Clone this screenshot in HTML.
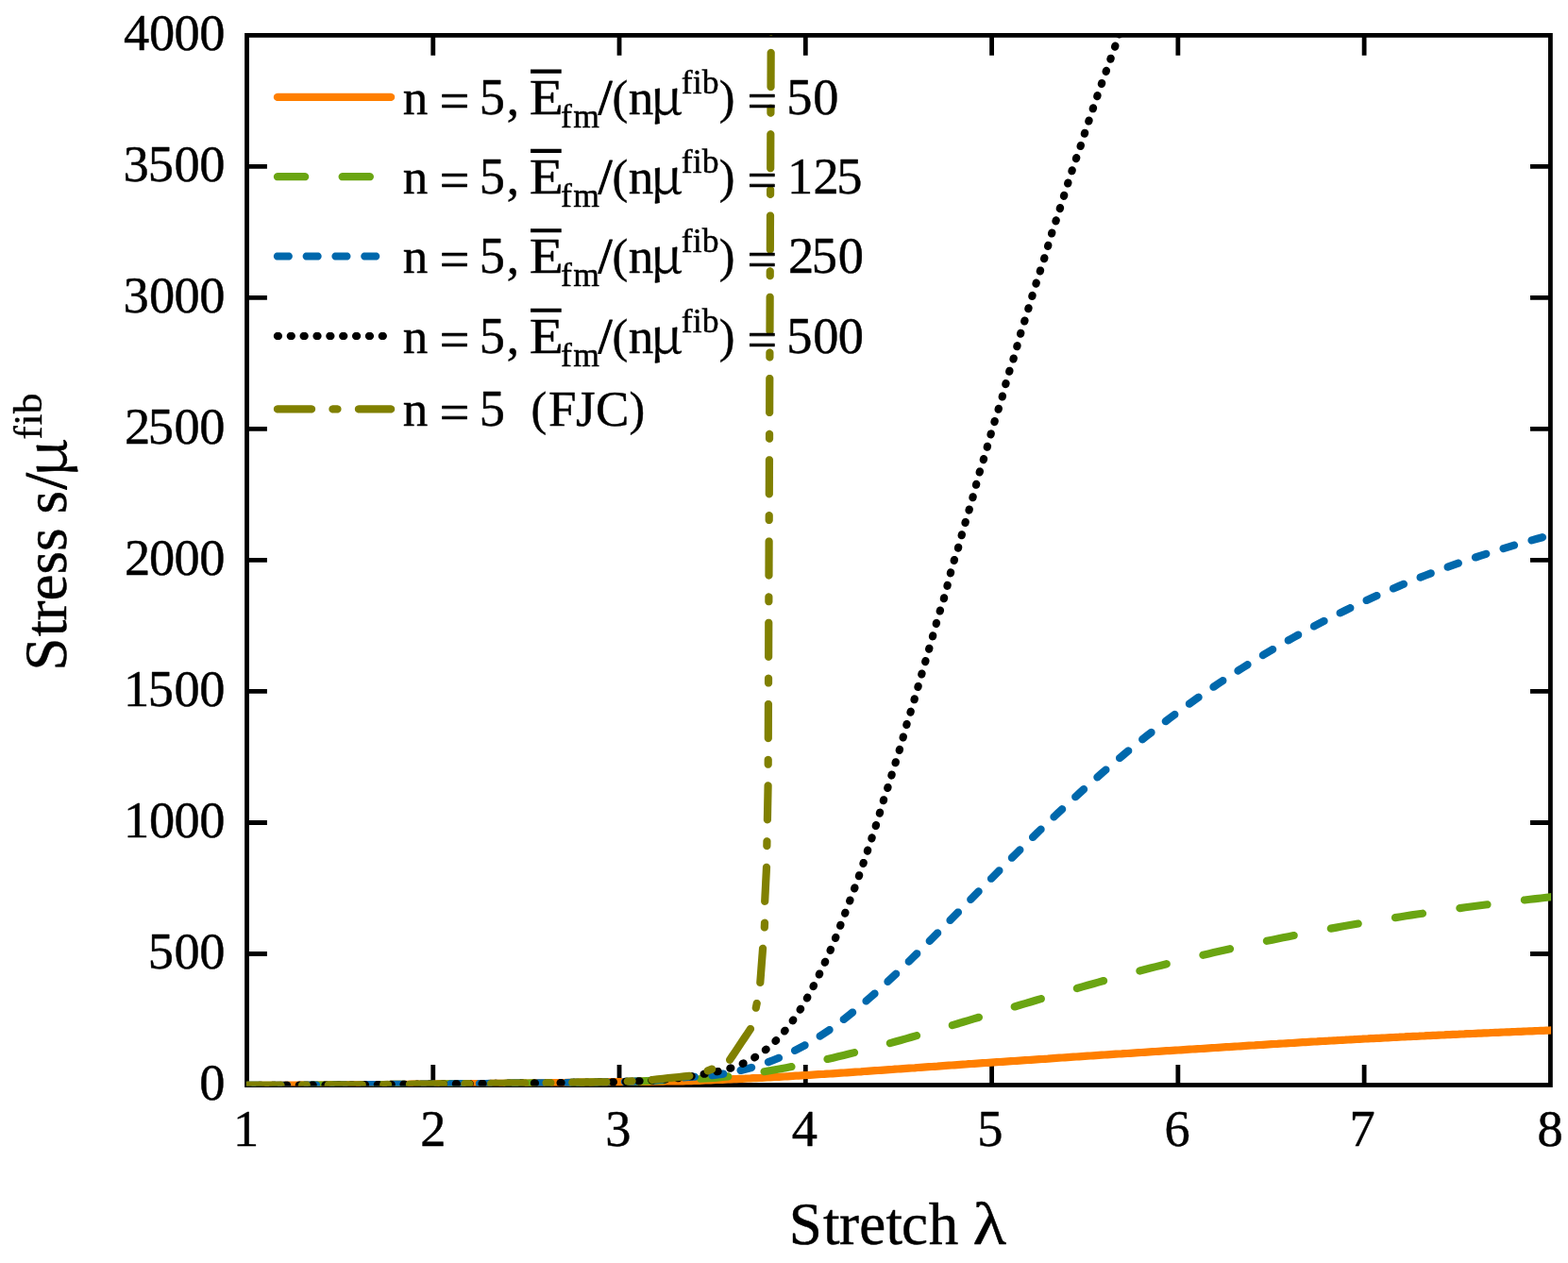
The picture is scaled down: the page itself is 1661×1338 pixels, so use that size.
<!DOCTYPE html>
<html lang="en"><head><meta charset="utf-8"><title>Stress vs Stretch</title>
<style>
html,body{margin:0;padding:0;background:#fff;}
body{width:1661px;height:1338px;overflow:hidden;}
svg{display:block;}
text{font-family:"Liberation Serif","DejaVu Serif",serif;fill:#000;stroke:#000;stroke-width:0.45px;stroke-linejoin:round;}
.t{font-size:53.05px;}
.d{font-size:54.38px;}
.l{font-size:63px;}
.s{font-size:35.6px;}
.ls{font-size:42.6px;}
.q{font-size:55.97px;stroke:#000;stroke-width:0.7px;}
.lq{font-size:63px;stroke:#000;stroke-width:1.3px;}
.sl{stroke:#000;stroke-width:1.1px;}
.p{font-size:50.13px;}
.m{font-family:"Noto Serif CJK SC","Liberation Serif",serif;font-size:49.87px;}
.lm{font-family:"Noto Serif CJK SC","Liberation Serif",serif;font-size:59.22px;}
.c{fill:none;stroke-width:8.2;stroke-linecap:butt;stroke-linejoin:round;}
.k{fill:none;stroke:#000;stroke-width:4.8;stroke-linecap:butt;}
</style></head><body>
<svg width="1661" height="1338" viewBox="0 0 1661 1338">
<rect width="1661" height="1338" fill="#fff"/>
<defs><clipPath id="cp"><rect x="260.90" y="37.00" width="1382.20" height="1113.60"/></clipPath>
<marker id="m0" markerUnits="userSpaceOnUse" markerWidth="10" markerHeight="10" refX="5" refY="5" viewBox="0 0 10 10"><path fill="#ff7f00" d="M9.100,5.000 9.038,5.712 8.853,6.402 8.551,7.050 8.141,7.635 7.635,8.141 7.050,8.551 6.402,8.853 5.712,9.038 5.000,9.100 4.288,9.038 3.598,8.853 2.950,8.551 2.365,8.141 1.859,7.635 1.449,7.050 1.147,6.402 0.962,5.712 0.900,5.000 0.962,4.288 1.147,3.598 1.449,2.950 1.859,2.365 2.365,1.859 2.950,1.449 3.598,1.147 4.288,0.962 5.000,0.900 5.712,0.962 6.402,1.147 7.050,1.449 7.635,1.859 8.141,2.365 8.551,2.950 8.853,3.598 9.038,4.288z"/></marker>
<marker id="m1" markerUnits="userSpaceOnUse" markerWidth="10" markerHeight="10" refX="5" refY="5" viewBox="0 0 10 10"><path fill="#6aa512" d="M9.100,5.000 9.038,5.712 8.853,6.402 8.551,7.050 8.141,7.635 7.635,8.141 7.050,8.551 6.402,8.853 5.712,9.038 5.000,9.100 4.288,9.038 3.598,8.853 2.950,8.551 2.365,8.141 1.859,7.635 1.449,7.050 1.147,6.402 0.962,5.712 0.900,5.000 0.962,4.288 1.147,3.598 1.449,2.950 1.859,2.365 2.365,1.859 2.950,1.449 3.598,1.147 4.288,0.962 5.000,0.900 5.712,0.962 6.402,1.147 7.050,1.449 7.635,1.859 8.141,2.365 8.551,2.950 8.853,3.598 9.038,4.288z"/></marker>
<marker id="m2" markerUnits="userSpaceOnUse" markerWidth="10" markerHeight="10" refX="5" refY="5" viewBox="0 0 10 10"><path fill="#0068ac" d="M9.100,5.000 9.038,5.712 8.853,6.402 8.551,7.050 8.141,7.635 7.635,8.141 7.050,8.551 6.402,8.853 5.712,9.038 5.000,9.100 4.288,9.038 3.598,8.853 2.950,8.551 2.365,8.141 1.859,7.635 1.449,7.050 1.147,6.402 0.962,5.712 0.900,5.000 0.962,4.288 1.147,3.598 1.449,2.950 1.859,2.365 2.365,1.859 2.950,1.449 3.598,1.147 4.288,0.962 5.000,0.900 5.712,0.962 6.402,1.147 7.050,1.449 7.635,1.859 8.141,2.365 8.551,2.950 8.853,3.598 9.038,4.288z"/></marker>
<marker id="m3" markerUnits="userSpaceOnUse" markerWidth="10" markerHeight="10" refX="5" refY="5" viewBox="0 0 10 10"><path fill="#000000" d="M9.100,5.000 9.038,5.712 8.853,6.402 8.551,7.050 8.141,7.635 7.635,8.141 7.050,8.551 6.402,8.853 5.712,9.038 5.000,9.100 4.288,9.038 3.598,8.853 2.950,8.551 2.365,8.141 1.859,7.635 1.449,7.050 1.147,6.402 0.962,5.712 0.900,5.000 0.962,4.288 1.147,3.598 1.449,2.950 1.859,2.365 2.365,1.859 2.950,1.449 3.598,1.147 4.288,0.962 5.000,0.900 5.712,0.962 6.402,1.147 7.050,1.449 7.635,1.859 8.141,2.365 8.551,2.950 8.853,3.598 9.038,4.288z"/></marker>
<marker id="m4" markerUnits="userSpaceOnUse" markerWidth="10" markerHeight="10" refX="5" refY="5" viewBox="0 0 10 10"><path fill="#808000" d="M9.100,5.000 9.038,5.712 8.853,6.402 8.551,7.050 8.141,7.635 7.635,8.141 7.050,8.551 6.402,8.853 5.712,9.038 5.000,9.100 4.288,9.038 3.598,8.853 2.950,8.551 2.365,8.141 1.859,7.635 1.449,7.050 1.147,6.402 0.962,5.712 0.900,5.000 0.962,4.288 1.147,3.598 1.449,2.950 1.859,2.365 2.365,1.859 2.950,1.449 3.598,1.147 4.288,0.962 5.000,0.900 5.712,0.962 6.402,1.147 7.050,1.449 7.635,1.859 8.141,2.365 8.551,2.950 8.853,3.598 9.038,4.288z"/></marker>
</defs>
<rect class="k" x="261.50" y="37.40" width="1380.90" height="1112.10" stroke-linejoin="miter"/>
<path class="k" d="M458.77,1149.50 V1128.10 M458.77,37.40 V58.80 M656.04,1149.50 V1128.10 M656.04,37.40 V58.80 M853.31,1149.50 V1128.10 M853.31,37.40 V58.80 M1050.59,1149.50 V1128.10 M1050.59,37.40 V58.80 M1247.86,1149.50 V1128.10 M1247.86,37.40 V58.80 M1445.13,1149.50 V1128.10 M1445.13,37.40 V58.80 M261.50,1010.49 H282.90 M1642.40,1010.49 H1621.00 M261.50,871.48 H282.90 M1642.40,871.48 H1621.00 M261.50,732.46 H282.90 M1642.40,732.46 H1621.00 M261.50,593.45 H282.90 M1642.40,593.45 H1621.00 M261.50,454.44 H282.90 M1642.40,454.44 H1621.00 M261.50,315.43 H282.90 M1642.40,315.43 H1621.00 M261.50,176.41 H282.90 M1642.40,176.41 H1621.00"/>
<g clip-path="url(#cp)">
<path class="c" stroke="#ff7f00" d="M261.5,1149.9 264.5,1149.9 267.5,1149.9 270.5,1149.9 273.5,1149.9 276.5,1149.8 279.5,1149.8 282.5,1149.8 285.5,1149.8 288.5,1149.8 291.5,1149.8 294.5,1149.8 297.5,1149.8 300.5,1149.7 303.5,1149.7 306.5,1149.7 309.5,1149.7 312.5,1149.7 315.5,1149.7 318.5,1149.7 321.5,1149.6 324.5,1149.6 327.5,1149.6 330.5,1149.6 333.5,1149.6 336.5,1149.5 339.5,1149.5 342.5,1149.5 345.5,1149.5 348.5,1149.5 351.5,1149.5 354.5,1149.4 357.5,1149.4 360.5,1149.4 363.5,1149.4 366.5,1149.4 369.5,1149.3 372.5,1149.3 375.5,1149.3 378.5,1149.3 381.5,1149.2 384.5,1149.2 387.5,1149.2 390.5,1149.2 393.5,1149.1 396.5,1149.1 399.5,1149.1 402.5,1149.1 405.5,1149.0 408.5,1149.0 411.5,1149.0 414.5,1148.9 417.5,1148.9 420.5,1148.9 423.5,1148.8 426.5,1148.8 429.5,1148.8 432.5,1148.8 435.5,1148.7 438.5,1148.7 441.5,1148.7 444.5,1148.6 447.5,1148.6 450.5,1148.6 453.5,1148.6 456.5,1148.5 459.5,1148.5 462.5,1148.5 465.5,1148.4 468.5,1148.4 471.5,1148.4 474.5,1148.4 477.5,1148.3 480.5,1148.3 483.5,1148.3 486.5,1148.2 489.5,1148.2 492.5,1148.2 495.5,1148.2 498.5,1148.1 501.5,1148.1 504.5,1148.1 507.5,1148.0 510.5,1148.0 513.5,1148.0 516.5,1148.0 519.5,1147.9 522.5,1147.9 525.5,1147.9 528.5,1147.8 531.5,1147.8 534.5,1147.8 537.5,1147.8 540.5,1147.7 543.5,1147.7 546.5,1147.7 549.5,1147.6 552.5,1147.6 555.5,1147.6 558.5,1147.5 561.5,1147.5 564.5,1147.4 567.5,1147.4 570.5,1147.4 573.5,1147.3 576.5,1147.3 579.5,1147.2 582.5,1147.2 585.5,1147.2 588.5,1147.1 591.5,1147.1 594.5,1147.0 597.5,1147.0 600.5,1146.9 603.5,1146.9 606.5,1146.8 609.5,1146.8 612.5,1146.7 615.5,1146.7 618.5,1146.6 621.5,1146.6 624.5,1146.6 627.5,1146.5 630.5,1146.5 633.5,1146.4 636.5,1146.4 639.5,1146.3 642.5,1146.3 645.5,1146.2 648.5,1146.2 651.5,1146.2 654.5,1146.1 657.5,1146.1 660.5,1146.0 663.5,1146.0 666.5,1146.0 669.5,1145.9 672.5,1145.9 675.5,1145.9 678.5,1145.8 681.5,1145.8 684.5,1145.8 687.5,1145.8 690.5,1145.7 693.5,1145.7 696.5,1145.6 699.5,1145.6 702.5,1145.6 705.5,1145.5 708.5,1145.5 711.5,1145.5 714.5,1145.4 717.5,1145.4 720.5,1145.3 723.5,1145.3 726.5,1145.2 729.5,1145.2 732.5,1145.1 735.0,1145.0 738.0,1144.9 741.0,1144.8 744.0,1144.7 747.0,1144.5 750.0,1144.4 753.0,1144.3 756.0,1144.2 759.0,1144.0 762.0,1143.9 765.0,1143.8 768.0,1143.6 771.0,1143.5 774.0,1143.4 777.0,1143.2 780.0,1143.1 783.0,1142.9 786.0,1142.8 789.0,1142.7 792.0,1142.5 795.0,1142.4 798.0,1142.2 801.0,1142.1 804.0,1142.0 807.0,1141.8 810.0,1141.6 813.0,1141.5 816.0,1141.3 819.0,1141.1 822.0,1141.0 825.0,1140.8 828.0,1140.6 831.0,1140.5 834.0,1140.3 837.0,1140.1 840.0,1139.9 843.0,1139.7 846.0,1139.6 849.0,1139.4 852.0,1139.2 855.0,1139.0 858.0,1138.8 861.0,1138.6 864.0,1138.4 867.0,1138.2 870.0,1138.0 873.0,1137.9 876.0,1137.7 879.0,1137.5 882.0,1137.3 885.0,1137.1 888.0,1136.9 891.0,1136.7 894.0,1136.5 897.0,1136.3 900.0,1136.1 903.0,1135.9 906.0,1135.7 909.0,1135.5 912.0,1135.3 915.0,1135.0 918.0,1134.8 921.0,1134.6 924.0,1134.4 927.0,1134.2 930.0,1134.0 933.0,1133.8 936.0,1133.6 939.0,1133.4 942.0,1133.2 945.0,1133.0 948.0,1132.7 951.0,1132.5 954.0,1132.3 957.0,1132.1 960.0,1131.9 963.0,1131.7 966.0,1131.5 969.0,1131.3 972.0,1131.0 975.0,1130.8 978.0,1130.6 981.0,1130.4 984.0,1130.2 987.0,1130.0 990.0,1129.8 993.0,1129.6 996.0,1129.3 999.0,1129.1 1002.0,1128.9 1005.0,1128.7 1008.0,1128.5 1011.0,1128.3 1014.0,1128.1 1017.0,1127.9 1020.0,1127.7 1023.0,1127.5 1026.0,1127.2 1029.0,1127.0 1032.0,1126.8 1035.0,1126.6 1038.0,1126.4 1041.0,1126.2 1044.0,1126.0 1047.0,1125.8 1050.0,1125.6 1053.0,1125.4 1056.0,1125.2 1059.0,1125.0 1062.0,1124.8 1065.0,1124.6 1068.0,1124.4 1071.0,1124.2 1074.0,1124.0 1077.0,1123.8 1080.0,1123.6 1083.0,1123.4 1086.0,1123.2 1089.0,1123.0 1092.0,1122.8 1095.0,1122.6 1098.0,1122.4 1101.0,1122.2 1104.0,1122.0 1107.0,1121.8 1110.0,1121.6 1113.0,1121.3 1116.0,1121.1 1119.0,1120.9 1122.0,1120.7 1125.0,1120.5 1128.0,1120.3 1131.0,1120.1 1134.0,1119.9 1137.0,1119.7 1140.0,1119.5 1143.0,1119.3 1146.0,1119.1 1149.0,1118.9 1152.0,1118.7 1155.0,1118.5 1158.0,1118.3 1161.0,1118.1 1164.0,1117.9 1167.0,1117.7 1170.0,1117.5 1173.0,1117.3 1176.0,1117.1 1179.0,1116.9 1182.0,1116.7 1185.0,1116.5 1188.0,1116.4 1191.0,1116.2 1194.0,1116.0 1197.0,1115.8 1200.0,1115.6 1203.0,1115.4 1206.0,1115.2 1209.0,1115.0 1212.0,1114.8 1215.0,1114.6 1218.0,1114.4 1221.0,1114.2 1224.0,1114.0 1227.0,1113.8 1230.0,1113.6 1233.0,1113.4 1236.0,1113.2 1239.0,1113.1 1242.0,1112.9 1245.0,1112.7 1248.0,1112.5 1251.0,1112.3 1254.0,1112.1 1257.0,1111.9 1260.0,1111.7 1263.0,1111.5 1266.0,1111.3 1269.0,1111.1 1272.0,1111.0 1275.0,1110.8 1278.0,1110.6 1281.0,1110.4 1284.0,1110.2 1287.0,1110.0 1290.0,1109.8 1293.0,1109.6 1296.0,1109.4 1299.0,1109.2 1302.0,1109.1 1305.0,1108.9 1308.0,1108.7 1311.0,1108.5 1314.0,1108.3 1317.0,1108.1 1320.0,1107.9 1323.0,1107.7 1326.0,1107.5 1329.0,1107.4 1332.0,1107.2 1335.0,1107.0 1338.0,1106.8 1341.0,1106.6 1344.0,1106.4 1347.0,1106.2 1350.0,1106.0 1353.0,1105.9 1356.0,1105.7 1359.0,1105.5 1362.0,1105.3 1365.0,1105.1 1368.0,1105.0 1371.0,1104.8 1374.0,1104.6 1377.0,1104.4 1380.0,1104.2 1383.0,1104.1 1386.0,1103.9 1389.0,1103.7 1392.0,1103.5 1395.0,1103.4 1398.0,1103.2 1401.0,1103.0 1404.0,1102.8 1407.0,1102.7 1410.0,1102.5 1413.0,1102.3 1416.0,1102.2 1419.0,1102.0 1422.0,1101.8 1425.0,1101.7 1428.0,1101.5 1431.0,1101.3 1434.0,1101.2 1437.0,1101.0 1440.0,1100.8 1443.0,1100.7 1446.0,1100.5 1449.0,1100.4 1452.0,1100.2 1455.0,1100.1 1458.0,1099.9 1461.0,1099.8 1464.0,1099.6 1467.0,1099.5 1470.0,1099.3 1473.0,1099.1 1476.0,1099.0 1479.0,1098.8 1482.0,1098.7 1485.0,1098.5 1488.0,1098.4 1491.0,1098.2 1494.0,1098.1 1497.0,1097.9 1500.0,1097.8 1503.0,1097.7 1506.0,1097.5 1509.0,1097.4 1512.0,1097.2 1515.0,1097.1 1518.0,1096.9 1521.0,1096.8 1524.0,1096.6 1527.0,1096.5 1530.0,1096.4 1533.0,1096.2 1536.0,1096.1 1539.0,1095.9 1542.0,1095.8 1545.0,1095.7 1548.0,1095.5 1551.0,1095.4 1554.0,1095.2 1557.0,1095.1 1560.0,1095.0 1563.0,1094.8 1566.0,1094.7 1569.0,1094.6 1572.0,1094.4 1575.0,1094.3 1578.0,1094.2 1581.0,1094.0 1584.0,1093.9 1587.0,1093.8 1590.0,1093.6 1593.0,1093.5 1596.0,1093.4 1599.0,1093.3 1602.0,1093.1 1605.0,1093.0 1608.0,1092.9 1611.0,1092.8 1614.0,1092.6 1617.0,1092.5 1620.0,1092.4 1623.0,1092.3 1626.0,1092.1 1629.0,1092.0 1632.0,1091.9 1635.0,1091.8 1638.0,1091.7 1641.0,1091.6 1644.0,1091.4 1647.0,1091.3"/>
<path fill="#6aa512" d="M261.51,1154.00 267.37,1153.98 273.23,1153.96 279.10,1153.94 284.96,1153.91 290.82,1153.89 291.73,1153.80 292.60,1153.49 293.38,1152.99 294.03,1152.34 294.51,1151.56 294.81,1150.69 294.91,1149.77 294.81,1148.86 294.50,1147.99 294.00,1147.21 293.35,1146.56 292.57,1146.08 291.70,1145.78 290.78,1145.69 284.92,1145.71 279.06,1145.74 273.20,1145.76 267.35,1145.78 261.49,1145.80 260.57,1145.89 259.70,1146.20 258.93,1146.69 258.28,1147.35 257.79,1148.13 257.49,1149.00 257.39,1149.91 257.49,1150.83 257.80,1151.70 258.29,1152.47 258.95,1153.12 259.73,1153.61 260.60,1153.91zM330.15,1153.69 336.01,1153.65 341.87,1153.61 347.73,1153.58 353.59,1153.54 359.45,1153.50 360.37,1153.41 361.24,1153.10 362.01,1152.60 362.66,1151.95 363.14,1151.16 363.44,1150.29 363.54,1149.38 363.43,1148.46 363.12,1147.60 362.63,1146.82 361.97,1146.17 361.19,1145.69 360.32,1145.39 359.40,1145.30 353.54,1145.34 347.68,1145.38 341.82,1145.42 335.96,1145.45 330.10,1145.49 329.19,1145.58 328.32,1145.89 327.54,1146.38 326.90,1147.04 326.41,1147.82 326.11,1148.69 326.01,1149.61 326.12,1150.52 326.43,1151.39 326.93,1152.17 327.58,1152.82 328.37,1153.30 329.24,1153.60zM398.79,1153.19 404.65,1153.13 410.51,1153.08 416.37,1153.02 422.23,1152.96 428.09,1152.90 429.01,1152.80 429.87,1152.49 430.65,1151.99 431.29,1151.33 431.78,1150.55 432.07,1149.68 432.17,1148.76 432.05,1147.85 431.74,1146.98 431.24,1146.21 430.59,1145.56 429.80,1145.08 428.93,1144.78 428.01,1144.70 422.15,1144.76 416.29,1144.82 410.43,1144.88 404.58,1144.93 398.72,1144.99 397.80,1145.09 396.94,1145.40 396.16,1145.90 395.51,1146.55 395.03,1147.34 394.74,1148.21 394.64,1149.13 394.75,1150.04 395.07,1150.91 395.56,1151.68 396.22,1152.33 397.00,1152.81 397.88,1153.11zM467.42,1152.52 473.28,1152.46 479.14,1152.41 485.00,1152.36 490.86,1152.30 496.72,1152.25 497.63,1152.15 498.50,1151.84 499.27,1151.34 499.92,1150.68 500.40,1149.90 500.70,1149.03 500.79,1148.11 500.68,1147.20 500.37,1146.33 499.87,1145.55 499.21,1144.91 498.43,1144.43 497.56,1144.13 496.64,1144.05 490.78,1144.10 484.92,1144.16 479.06,1144.21 473.20,1144.27 467.34,1144.32 466.43,1144.42 465.56,1144.73 464.79,1145.23 464.14,1145.88 463.66,1146.67 463.36,1147.54 463.27,1148.46 463.38,1149.37 463.69,1150.24 464.19,1151.01 464.85,1151.66 465.63,1152.14 466.50,1152.44zM536.05,1151.87 541.91,1151.80 547.77,1151.74 553.63,1151.67 559.49,1151.61 565.35,1151.54 566.27,1151.44 567.13,1151.12 567.91,1150.62 568.55,1149.96 569.03,1149.18 569.32,1148.31 569.42,1147.39 569.30,1146.48 568.99,1145.61 568.49,1144.84 567.83,1144.19 567.04,1143.71 566.17,1143.42 565.26,1143.34 559.40,1143.41 553.54,1143.47 547.68,1143.54 541.82,1143.60 535.96,1143.67 535.05,1143.77 534.18,1144.08 533.41,1144.58 532.76,1145.24 532.28,1146.02 531.99,1146.89 531.89,1147.81 532.01,1148.72 532.32,1149.59 532.82,1150.36 533.47,1151.01 534.26,1151.49 535.13,1151.78zM604.68,1151.06 610.54,1150.98 616.41,1150.90 622.27,1150.81 628.13,1150.72 633.99,1150.62 634.91,1150.52 635.77,1150.20 636.54,1149.70 637.18,1149.04 637.66,1148.25 637.95,1147.37 638.04,1146.46 637.92,1145.54 637.60,1144.68 637.10,1143.91 636.44,1143.27 635.65,1142.79 634.77,1142.50 633.86,1142.43 628.00,1142.52 622.14,1142.62 616.29,1142.70 610.43,1142.78 604.57,1142.86 603.66,1142.97 602.79,1143.28 602.02,1143.78 601.38,1144.44 600.90,1145.23 600.61,1146.10 600.52,1147.02 600.63,1147.93 600.95,1148.80 601.45,1149.57 602.11,1150.21 602.89,1150.69 603.77,1150.99zM673.39,1149.69 679.25,1149.47 685.11,1149.25 690.96,1149.03 696.82,1148.81 702.67,1148.59 703.59,1148.47 704.44,1148.13 705.20,1147.61 705.83,1146.94 706.29,1146.14 706.56,1145.26 706.63,1144.34 706.49,1143.43 706.16,1142.57 705.64,1141.81 704.96,1141.19 704.17,1140.73 703.29,1140.45 702.37,1140.40 696.51,1140.62 690.66,1140.83 684.80,1141.06 678.95,1141.28 673.09,1141.49 672.18,1141.62 671.32,1141.95 670.56,1142.47 669.94,1143.15 669.47,1143.94 669.20,1144.82 669.13,1145.74 669.27,1146.65 669.60,1147.51 670.12,1148.27 670.80,1148.90 671.59,1149.36 672.47,1149.63zM742.31,1146.87 748.17,1146.53 754.07,1146.17 759.98,1145.69 765.86,1145.12 771.71,1144.50 772.61,1144.31 773.44,1143.92 774.17,1143.35 774.74,1142.63 775.15,1141.80 775.36,1140.91 775.37,1139.99 775.17,1139.09 774.77,1138.26 774.20,1137.53 773.49,1136.95 772.66,1136.55 771.76,1136.34 770.84,1136.34 765.03,1136.96 759.25,1137.52 753.49,1137.99 747.68,1138.35 741.84,1138.68 740.94,1138.82 740.08,1139.18 739.33,1139.71 738.72,1140.40 738.28,1141.20 738.02,1142.09 737.97,1143.01 738.13,1143.92 738.48,1144.77 739.01,1145.52 739.70,1146.13 740.51,1146.57 741.39,1146.83zM810.26,1139.25 816.06,1138.30 821.86,1137.30 827.66,1136.27 833.44,1135.21 839.21,1134.11 840.10,1133.85 840.89,1133.39 841.57,1132.76 842.09,1132.00 842.42,1131.14 842.56,1130.23 842.49,1129.31 842.21,1128.43 841.75,1127.63 841.13,1126.96 840.36,1126.44 839.51,1126.11 838.59,1125.97 837.68,1126.05 831.93,1127.15 826.20,1128.20 820.45,1129.23 814.70,1130.21 808.93,1131.16 808.05,1131.39 807.24,1131.84 806.55,1132.45 806.01,1133.19 805.65,1134.04 805.49,1134.95 805.54,1135.87 805.79,1136.76 806.23,1137.56 806.84,1138.25 807.59,1138.79 808.44,1139.15 809.35,1139.31zM877.45,1125.98 883.17,1124.65 888.89,1123.30 894.60,1121.92 900.30,1120.51 906.00,1119.09 906.86,1118.78 907.63,1118.27 908.27,1117.61 908.74,1116.82 909.03,1115.94 909.11,1115.02 908.99,1114.11 908.67,1113.25 908.16,1112.48 907.50,1111.84 906.71,1111.37 905.83,1111.08 904.92,1111.00 904.01,1111.13 898.33,1112.55 892.65,1113.95 886.98,1115.32 881.29,1116.67 875.59,1118.00 874.72,1118.29 873.94,1118.78 873.29,1119.44 872.81,1120.22 872.51,1121.09 872.41,1122.01 872.51,1122.92 872.82,1123.79 873.32,1124.57 873.97,1125.22 874.75,1125.70 875.62,1126.00 876.54,1126.10zM943.94,1109.06 949.59,1107.49 955.24,1105.92 960.89,1104.32 966.54,1102.72 972.18,1101.11 973.03,1100.77 973.78,1100.24 974.40,1099.55 974.85,1098.75 975.10,1097.86 975.16,1096.94 975.00,1096.04 974.65,1095.18 974.12,1094.43 973.44,1093.82 972.63,1093.37 971.75,1093.11 970.83,1093.06 969.92,1093.23 964.29,1094.84 958.66,1096.43 953.03,1098.02 947.40,1099.59 941.75,1101.15 940.89,1101.48 940.14,1102.01 939.52,1102.69 939.06,1103.49 938.80,1104.37 938.74,1105.29 938.88,1106.20 939.22,1107.06 939.75,1107.81 940.43,1108.43 941.23,1108.89 942.11,1109.15 943.03,1109.21zM1009.97,1090.06 1015.59,1088.39 1021.21,1086.72 1026.83,1085.05 1032.44,1083.37 1038.06,1081.69 1038.91,1081.34 1039.65,1080.80 1040.26,1080.11 1040.70,1079.30 1040.95,1078.41 1040.99,1077.49 1040.83,1076.59 1040.46,1075.74 1039.92,1074.99 1039.23,1074.39 1038.42,1073.95 1037.53,1073.70 1036.61,1073.66 1035.71,1073.84 1030.10,1075.51 1024.48,1077.19 1018.87,1078.86 1013.25,1080.53 1007.64,1082.20 1006.79,1082.54 1006.04,1083.08 1005.43,1083.77 1004.99,1084.58 1004.74,1085.47 1004.70,1086.39 1004.86,1087.30 1005.22,1088.15 1005.76,1088.89 1006.45,1089.50 1007.26,1089.94 1008.15,1090.19 1009.07,1090.23zM1075.90,1070.39 1081.51,1068.72 1087.13,1067.05 1092.74,1065.38 1098.36,1063.72 1103.98,1062.06 1104.83,1061.71 1105.58,1061.17 1106.19,1060.48 1106.63,1059.67 1106.88,1058.79 1106.92,1057.87 1106.76,1056.96 1106.40,1056.11 1105.87,1055.36 1105.17,1054.75 1104.37,1054.31 1103.48,1054.07 1102.56,1054.02 1101.66,1054.19 1096.03,1055.85 1090.41,1057.52 1084.79,1059.19 1079.17,1060.86 1073.56,1062.53 1072.71,1062.88 1071.96,1063.42 1071.35,1064.11 1070.91,1064.92 1070.67,1065.81 1070.62,1066.73 1070.79,1067.63 1071.15,1068.48 1071.69,1069.23 1072.38,1069.84 1073.19,1070.27 1074.08,1070.52 1075.00,1070.56zM1141.99,1050.97 1147.62,1049.35 1153.25,1047.74 1158.88,1046.15 1164.52,1044.56 1170.15,1042.97 1171.01,1042.64 1171.77,1042.11 1172.38,1041.43 1172.84,1040.63 1173.10,1039.74 1173.15,1038.82 1173.01,1037.91 1172.66,1037.06 1172.13,1036.31 1171.45,1035.69 1170.65,1035.24 1169.76,1034.98 1168.84,1034.92 1167.94,1035.08 1162.29,1036.66 1156.65,1038.26 1151.00,1039.86 1145.36,1041.47 1139.73,1043.09 1138.87,1043.43 1138.12,1043.96 1137.51,1044.64 1137.06,1045.45 1136.81,1046.33 1136.75,1047.25 1136.91,1048.16 1137.26,1049.01 1137.79,1049.76 1138.48,1050.38 1139.28,1050.83 1140.17,1051.08 1141.09,1051.13zM1208.42,1032.53 1214.08,1031.03 1219.74,1029.55 1225.41,1028.08 1231.07,1026.63 1236.75,1025.19 1237.61,1024.87 1238.38,1024.36 1239.02,1023.70 1239.49,1022.91 1239.77,1022.03 1239.85,1021.11 1239.73,1020.20 1239.40,1019.34 1238.89,1018.57 1238.22,1017.94 1237.43,1017.46 1236.56,1017.18 1235.64,1017.10 1234.73,1017.24 1229.04,1018.68 1223.36,1020.14 1217.68,1021.61 1212.00,1023.10 1206.33,1024.60 1205.47,1024.92 1204.70,1025.44 1204.08,1026.11 1203.61,1026.91 1203.34,1027.78 1203.27,1028.70 1203.40,1029.61 1203.73,1030.47 1204.25,1031.24 1204.92,1031.86 1205.72,1032.33 1206.60,1032.60 1207.52,1032.67zM1275.35,1015.77 1281.05,1014.43 1286.75,1013.11 1292.45,1011.80 1298.15,1010.51 1303.87,1009.22 1304.74,1008.93 1305.52,1008.45 1306.17,1007.80 1306.67,1007.02 1306.97,1006.15 1307.08,1005.24 1306.98,1004.32 1306.68,1003.45 1306.19,1002.67 1305.54,1002.02 1304.77,1001.52 1303.90,1001.22 1302.98,1001.11 1302.07,1001.22 1296.35,1002.51 1290.62,1003.81 1284.90,1005.12 1279.18,1006.44 1273.47,1007.78 1272.60,1008.08 1271.83,1008.57 1271.18,1009.23 1270.69,1010.01 1270.39,1010.88 1270.30,1011.80 1270.41,1012.71 1270.71,1013.58 1271.21,1014.36 1271.86,1015.00 1272.65,1015.49 1273.52,1015.79 1274.43,1015.89zM1342.76,1000.85 1348.49,999.67 1354.22,998.50 1359.96,997.34 1365.70,996.20 1371.44,995.06 1372.32,994.80 1373.12,994.33 1373.79,993.70 1374.30,992.94 1374.63,992.08 1374.76,991.16 1374.68,990.25 1374.41,989.37 1373.94,988.57 1373.31,987.90 1372.54,987.39 1371.68,987.06 1370.77,986.93 1369.86,987.02 1364.10,988.15 1358.35,989.30 1352.59,990.46 1346.84,991.63 1341.10,992.82 1340.22,993.09 1339.43,993.57 1338.77,994.20 1338.26,994.97 1337.94,995.83 1337.82,996.75 1337.90,997.67 1338.19,998.54 1338.66,999.33 1339.30,1000.00 1340.07,1000.50 1340.93,1000.82 1341.84,1000.95zM1410.56,987.69 1416.32,986.65 1422.08,985.62 1427.84,984.61 1433.61,983.60 1439.38,982.61 1440.27,982.37 1441.07,981.92 1441.76,981.30 1442.29,980.55 1442.64,979.70 1442.79,978.79 1442.74,977.87 1442.48,976.99 1442.03,976.18 1441.42,975.50 1440.67,974.97 1439.82,974.62 1438.91,974.46 1437.99,974.53 1432.21,975.52 1426.43,976.53 1420.65,977.55 1414.87,978.58 1409.10,979.62 1408.22,979.87 1407.42,980.32 1406.74,980.94 1406.21,981.70 1405.87,982.55 1405.72,983.46 1405.78,984.38 1406.05,985.26 1406.50,986.07 1407.12,986.75 1407.88,987.27 1408.73,987.61 1409.64,987.76zM1478.65,976.16 1484.44,975.26 1490.22,974.36 1496.01,973.48 1501.79,972.61 1507.59,971.74 1508.48,971.52 1509.29,971.09 1509.99,970.49 1510.54,969.75 1510.91,968.91 1511.08,968.00 1511.05,967.08 1510.81,966.19 1510.38,965.38 1509.78,964.68 1509.04,964.13 1508.20,963.76 1507.30,963.59 1506.38,963.63 1500.58,964.50 1494.78,965.37 1488.98,966.26 1483.18,967.16 1477.38,968.06 1476.49,968.29 1475.68,968.73 1474.99,969.33 1474.44,970.08 1474.08,970.92 1473.92,971.83 1473.95,972.75 1474.20,973.64 1474.63,974.45 1475.24,975.14 1475.98,975.69 1476.83,976.05 1477.73,976.22zM1546.96,966.16 1552.76,965.37 1558.56,964.60 1564.36,963.83 1570.17,963.08 1575.98,962.33 1576.87,962.13 1577.70,961.72 1578.41,961.13 1578.97,960.40 1579.36,959.57 1579.55,958.67 1579.54,957.74 1579.32,956.85 1578.90,956.03 1578.32,955.32 1577.59,954.75 1576.75,954.37 1575.85,954.17 1574.93,954.20 1569.12,954.95 1563.30,955.70 1557.48,956.47 1551.67,957.25 1545.86,958.03 1544.96,958.24 1544.14,958.66 1543.43,959.25 1542.88,959.98 1542.50,960.82 1542.31,961.72 1542.33,962.64 1542.56,963.54 1542.97,964.36 1543.56,965.06 1544.30,965.62 1545.13,966.00 1546.04,966.19zM1615.39,957.53 1621.20,956.85 1627.02,956.19 1632.84,955.53 1638.66,954.87 1644.49,954.21 1645.39,954.01 1646.22,953.61 1646.94,953.04 1647.51,952.32 1647.91,951.49 1648.11,950.59 1648.11,949.67 1647.91,948.77 1647.51,947.94 1646.93,947.22 1646.21,946.65 1645.38,946.25 1644.48,946.05 1643.56,946.06 1637.74,946.72 1631.92,947.38 1626.09,948.04 1620.27,948.70 1614.44,949.38 1613.54,949.58 1612.72,949.98 1612.00,950.55 1611.42,951.28 1611.03,952.11 1610.83,953.01 1610.83,953.93 1611.04,954.82 1611.44,955.65 1612.02,956.37 1612.74,956.94 1613.57,957.34 1614.47,957.54z"/>
<path fill="#0068ac" d="M261.51,1154.00 267.46,1153.98 273.41,1153.96 274.33,1153.87 275.20,1153.56 275.98,1153.07 276.62,1152.41 277.11,1151.63 277.41,1150.76 277.51,1149.85 277.41,1148.93 277.10,1148.06 276.61,1147.28 275.95,1146.64 275.17,1146.15 274.30,1145.85 273.39,1145.76 267.44,1145.78 261.49,1145.80 260.57,1145.89 259.70,1146.20 258.93,1146.69 258.28,1147.35 257.79,1148.13 257.49,1149.00 257.39,1149.91 257.49,1150.83 257.80,1151.70 258.29,1152.47 258.95,1153.12 259.73,1153.61 260.60,1153.91zM292.32,1153.88 298.27,1153.85 304.22,1153.83 305.14,1153.73 306.01,1153.42 306.78,1152.93 307.43,1152.27 307.92,1151.49 308.22,1150.62 308.32,1149.71 308.21,1148.79 307.90,1147.92 307.41,1147.15 306.75,1146.50 305.97,1146.01 305.10,1145.71 304.18,1145.63 298.24,1145.65 292.29,1145.68 291.37,1145.78 290.50,1146.09 289.73,1146.58 289.08,1147.23 288.59,1148.02 288.29,1148.89 288.19,1149.80 288.30,1150.72 288.61,1151.58 289.10,1152.36 289.76,1153.01 290.54,1153.50 291.41,1153.80zM323.13,1153.73 329.08,1153.69 335.03,1153.66 335.95,1153.56 336.82,1153.25 337.59,1152.76 338.24,1152.10 338.73,1151.32 339.02,1150.45 339.12,1149.53 339.01,1148.62 338.70,1147.75 338.21,1146.97 337.55,1146.33 336.77,1145.84 335.90,1145.54 334.98,1145.46 329.04,1145.49 323.09,1145.53 322.17,1145.62 321.30,1145.93 320.53,1146.42 319.88,1147.08 319.39,1147.86 319.09,1148.73 319.00,1149.65 319.10,1150.56 319.41,1151.43 319.91,1152.21 320.56,1152.86 321.35,1153.34 322.22,1153.64zM353.94,1153.54 359.89,1153.50 365.84,1153.46 366.76,1153.36 367.62,1153.05 368.40,1152.56 369.05,1151.90 369.53,1151.12 369.83,1150.25 369.93,1149.33 369.82,1148.42 369.51,1147.55 369.01,1146.77 368.36,1146.13 367.57,1145.64 366.70,1145.34 365.79,1145.26 359.84,1145.30 353.89,1145.34 352.97,1145.44 352.11,1145.75 351.33,1146.24 350.68,1146.90 350.20,1147.68 349.90,1148.55 349.80,1149.47 349.91,1150.38 350.22,1151.25 350.71,1152.02 351.37,1152.67 352.15,1153.16 353.02,1153.45zM384.75,1153.31 390.70,1153.26 396.65,1153.21 397.57,1153.11 398.44,1152.80 399.21,1152.30 399.86,1151.64 400.34,1150.86 400.64,1149.99 400.73,1149.07 400.62,1148.16 400.31,1147.29 399.81,1146.51 399.15,1145.87 398.37,1145.39 397.50,1145.09 396.58,1145.01 390.63,1145.06 384.68,1145.11 383.77,1145.21 382.90,1145.52 382.13,1146.02 381.48,1146.68 381.00,1147.46 380.70,1148.33 380.60,1149.25 380.72,1150.16 381.03,1151.03 381.52,1151.80 382.18,1152.45 382.97,1152.93 383.84,1153.23zM415.56,1153.03 421.51,1152.97 427.46,1152.91 428.38,1152.81 429.24,1152.50 430.02,1152.00 430.66,1151.34 431.14,1150.56 431.44,1149.68 431.53,1148.77 431.42,1147.85 431.11,1146.99 430.61,1146.21 429.95,1145.57 429.17,1145.09 428.30,1144.79 427.38,1144.71 421.43,1144.77 415.48,1144.83 414.57,1144.93 413.70,1145.24 412.93,1145.74 412.28,1146.39 411.80,1147.18 411.50,1148.05 411.41,1148.97 411.52,1149.88 411.83,1150.75 412.33,1151.52 412.99,1152.17 413.77,1152.65 414.65,1152.95zM446.36,1152.72 452.31,1152.66 458.26,1152.61 459.18,1152.51 460.04,1152.19 460.82,1151.70 461.46,1151.04 461.95,1150.25 462.24,1149.38 462.34,1148.47 462.23,1147.55 461.91,1146.69 461.42,1145.91 460.76,1145.27 459.97,1144.78 459.10,1144.49 458.18,1144.41 452.23,1144.46 446.28,1144.52 445.37,1144.62 444.50,1144.93 443.73,1145.43 443.08,1146.09 442.60,1146.87 442.31,1147.74 442.21,1148.66 442.32,1149.58 442.64,1150.44 443.13,1151.22 443.79,1151.86 444.58,1152.34 445.45,1152.64zM477.17,1152.43 483.12,1152.37 489.07,1152.32 489.98,1152.22 490.85,1151.91 491.62,1151.41 492.27,1150.75 492.75,1149.97 493.05,1149.10 493.14,1148.18 493.03,1147.27 492.72,1146.40 492.22,1145.63 491.56,1144.98 490.78,1144.50 489.91,1144.20 488.99,1144.12 483.04,1144.17 477.09,1144.23 476.18,1144.33 475.31,1144.64 474.53,1145.14 473.89,1145.79 473.41,1146.58 473.11,1147.45 473.02,1148.37 473.13,1149.28 473.44,1150.15 473.94,1150.92 474.59,1151.57 475.38,1152.05 476.25,1152.35zM507.97,1152.14 513.92,1152.09 519.87,1152.03 520.79,1151.93 521.65,1151.62 522.43,1151.12 523.07,1150.46 523.55,1149.68 523.85,1148.81 523.94,1147.89 523.83,1146.97 523.52,1146.11 523.02,1145.33 522.36,1144.69 521.58,1144.21 520.71,1143.91 519.79,1143.83 513.84,1143.89 507.89,1143.94 506.98,1144.04 506.11,1144.35 505.34,1144.85 504.69,1145.51 504.21,1146.29 503.91,1147.17 503.82,1148.08 503.93,1149.00 504.24,1149.86 504.74,1150.64 505.40,1151.28 506.18,1151.77 507.05,1152.06zM538.78,1151.84 544.73,1151.77 550.68,1151.71 551.59,1151.61 552.46,1151.29 553.23,1150.79 553.88,1150.14 554.36,1149.35 554.65,1148.48 554.75,1147.56 554.63,1146.65 554.32,1145.78 553.82,1145.01 553.16,1144.36 552.38,1143.88 551.51,1143.59 550.59,1143.51 544.64,1143.57 538.69,1143.64 537.78,1143.74 536.91,1144.05 536.14,1144.55 535.49,1145.21 535.01,1145.99 534.72,1146.86 534.62,1147.78 534.74,1148.70 535.05,1149.56 535.55,1150.34 536.21,1150.98 536.99,1151.46 537.86,1151.76zM569.58,1151.49 575.53,1151.42 581.48,1151.35 582.40,1151.25 583.26,1150.94 584.04,1150.44 584.68,1149.78 585.16,1149.00 585.46,1148.12 585.55,1147.21 585.44,1146.29 585.12,1145.43 584.62,1144.65 583.97,1144.01 583.18,1143.53 582.31,1143.23 581.39,1143.15 575.44,1143.22 569.49,1143.29 568.58,1143.39 567.71,1143.70 566.94,1144.20 566.29,1144.86 565.81,1145.65 565.52,1146.52 565.43,1147.44 565.54,1148.35 565.85,1149.22 566.35,1149.99 567.01,1150.63 567.80,1151.12 568.67,1151.41zM600.39,1151.13 606.34,1151.06 612.29,1150.98 613.21,1150.87 614.07,1150.56 614.85,1150.06 615.49,1149.40 615.97,1148.61 616.26,1147.74 616.35,1146.82 616.24,1145.91 615.92,1145.04 615.42,1144.27 614.76,1143.63 613.98,1143.15 613.10,1142.86 612.19,1142.78 606.24,1142.86 600.29,1142.93 599.38,1143.03 598.51,1143.35 597.74,1143.85 597.09,1144.51 596.61,1145.29 596.32,1146.17 596.23,1147.08 596.34,1148.00 596.66,1148.86 597.16,1149.64 597.82,1150.28 598.60,1150.76 599.48,1151.05zM631.21,1150.69 637.17,1150.59 643.12,1150.47 644.03,1150.37 644.89,1150.05 645.67,1149.54 646.30,1148.88 646.78,1148.09 647.07,1147.21 647.15,1146.30 647.03,1145.38 646.71,1144.52 646.21,1143.75 645.54,1143.11 644.76,1142.64 643.88,1142.35 642.96,1142.28 637.02,1142.39 631.07,1142.49 630.16,1142.60 629.29,1142.92 628.52,1143.42 627.88,1144.08 627.41,1144.87 627.12,1145.75 627.03,1146.66 627.15,1147.58 627.47,1148.44 627.97,1149.21 628.64,1149.85 629.42,1150.33 630.30,1150.62zM662.07,1150.04 668.03,1149.85 673.99,1149.62 674.90,1149.50 675.76,1149.16 676.52,1148.64 677.14,1147.97 677.60,1147.17 677.88,1146.29 677.94,1145.37 677.81,1144.46 677.47,1143.60 676.95,1142.84 676.27,1142.22 675.48,1141.76 674.60,1141.49 673.68,1141.43 667.74,1141.66 661.81,1141.85 660.90,1141.97 660.04,1142.30 659.27,1142.81 658.64,1143.49 658.18,1144.28 657.90,1145.16 657.83,1146.08 657.96,1146.99 658.29,1147.85 658.81,1148.61 659.48,1149.24 660.28,1149.71 661.15,1149.98zM693.08,1148.64 699.05,1148.09 705.00,1147.44 705.90,1147.24 706.73,1146.85 707.45,1146.27 708.03,1145.56 708.43,1144.73 708.64,1143.83 708.64,1142.91 708.44,1142.01 708.04,1141.18 707.47,1140.46 706.75,1139.88 705.92,1139.48 705.02,1139.27 704.10,1139.28 698.23,1139.93 692.34,1140.47 691.44,1140.64 690.60,1141.02 689.87,1141.58 689.28,1142.29 688.86,1143.11 688.64,1144.00 688.62,1144.93 688.80,1145.83 689.18,1146.67 689.74,1147.40 690.45,1147.99 691.27,1148.40 692.16,1148.63zM724.09,1145.40 729.99,1145.07 735.89,1144.86 736.80,1144.73 737.66,1144.40 738.42,1143.88 739.05,1143.21 739.51,1142.41 739.78,1141.53 739.86,1140.61 739.72,1139.70 739.38,1138.84 738.87,1138.08 738.19,1137.45 737.40,1136.99 736.52,1136.72 735.60,1136.66 729.61,1136.87 723.63,1137.21 722.72,1137.35 721.87,1137.70 721.12,1138.24 720.50,1138.92 720.06,1139.73 719.80,1140.61 719.75,1141.53 719.91,1142.44 720.26,1143.29 720.79,1144.04 721.48,1144.66 722.28,1145.10 723.17,1145.36zM754.94,1143.32 760.89,1142.57 766.82,1141.67 767.71,1141.45 768.52,1141.02 769.22,1140.42 769.77,1139.68 770.14,1138.83 770.31,1137.93 770.28,1137.01 770.04,1136.12 769.61,1135.31 769.01,1134.61 768.27,1134.06 767.42,1133.69 766.52,1133.52 765.60,1133.57 759.76,1134.44 753.91,1135.19 753.01,1135.39 752.19,1135.80 751.47,1136.39 750.91,1137.12 750.52,1137.95 750.33,1138.85 750.34,1139.77 750.56,1140.67 750.97,1141.49 751.56,1142.20 752.28,1142.77 753.12,1143.16 754.02,1143.35zM785.58,1137.93 791.40,1136.48 797.19,1134.89 798.05,1134.56 798.80,1134.04 799.42,1133.36 799.88,1132.56 800.15,1131.67 800.21,1130.75 800.07,1129.84 799.72,1128.99 799.20,1128.23 798.52,1127.61 797.72,1127.15 796.84,1126.89 795.92,1126.83 795.01,1126.98 789.32,1128.55 783.60,1129.98 782.73,1130.29 781.96,1130.79 781.32,1131.46 780.85,1132.25 780.56,1133.12 780.48,1134.04 780.60,1134.95 780.92,1135.82 781.43,1136.58 782.09,1137.22 782.88,1137.70 783.76,1137.98 784.67,1138.07zM815.38,1128.93 820.99,1126.80 826.54,1124.54 827.35,1124.11 828.04,1123.50 828.58,1122.75 828.94,1121.90 829.10,1121.00 829.05,1120.08 828.80,1119.19 828.36,1118.38 827.75,1117.69 827.01,1117.15 826.16,1116.80 825.25,1116.64 824.33,1116.68 823.45,1116.94 817.98,1119.17 812.46,1121.27 811.64,1121.68 810.94,1122.27 810.38,1123.01 810.01,1123.85 809.82,1124.75 809.85,1125.67 810.08,1126.57 810.50,1127.38 811.09,1128.09 811.83,1128.64 812.67,1129.02 813.57,1129.20 814.49,1129.17zM843.92,1116.52 849.24,1113.77 854.51,1110.91 855.27,1110.39 855.89,1109.71 856.34,1108.90 856.60,1108.02 856.66,1107.10 856.51,1106.19 856.16,1105.34 855.64,1104.59 854.95,1103.97 854.15,1103.52 853.27,1103.25 852.35,1103.20 851.44,1103.34 850.59,1103.70 845.40,1106.52 840.16,1109.23 839.38,1109.73 838.75,1110.40 838.28,1111.20 838.00,1112.07 837.93,1112.99 838.05,1113.90 838.38,1114.76 838.89,1115.53 839.56,1116.16 840.36,1116.63 841.23,1116.91 842.15,1116.99 843.06,1116.86zM870.92,1101.08 875.93,1097.80 880.87,1094.42 881.58,1093.83 882.13,1093.09 882.50,1092.25 882.67,1091.34 882.63,1090.42 882.39,1089.53 881.96,1088.72 881.36,1088.02 880.62,1087.48 879.78,1087.11 878.87,1086.94 877.95,1086.97 877.06,1087.21 876.26,1087.65 871.37,1090.98 866.43,1094.22 865.71,1094.80 865.15,1095.53 864.76,1096.36 864.58,1097.26 864.59,1098.19 864.82,1099.08 865.23,1099.90 865.82,1100.61 866.55,1101.17 867.39,1101.56 868.29,1101.74 869.21,1101.73 870.10,1101.50zM896.27,1083.15 900.98,1079.48 905.65,1075.75 906.31,1075.11 906.80,1074.33 907.10,1073.46 907.21,1072.54 907.10,1071.63 906.80,1070.76 906.31,1069.98 905.65,1069.33 904.87,1068.84 904.00,1068.54 903.09,1068.44 902.17,1068.54 901.31,1068.84 900.53,1069.35 895.91,1073.04 891.23,1076.68 890.56,1077.32 890.06,1078.09 889.75,1078.96 889.64,1079.87 889.73,1080.79 890.02,1081.66 890.50,1082.44 891.15,1083.10 891.92,1083.60 892.79,1083.92 893.70,1084.03 894.62,1083.94 895.49,1083.64zM920.25,1063.54 924.74,1059.62 929.21,1055.67 929.84,1054.99 930.29,1054.19 930.55,1053.31 930.60,1052.39 930.45,1051.48 930.10,1050.63 929.57,1049.87 928.89,1049.26 928.09,1048.81 927.20,1048.55 926.28,1048.49 925.37,1048.64 924.52,1048.99 923.78,1049.53 919.33,1053.46 914.86,1057.36 914.23,1058.03 913.77,1058.83 913.51,1059.71 913.44,1060.63 913.59,1061.54 913.93,1062.39 914.45,1063.15 915.13,1063.77 915.93,1064.23 916.81,1064.50 917.73,1064.56 918.64,1064.42 919.50,1064.08zM943.25,1042.86 947.60,1038.79 951.94,1034.69 952.54,1034.00 952.96,1033.18 953.19,1032.29 953.22,1031.37 953.04,1030.46 952.66,1029.62 952.11,1028.89 951.40,1028.29 950.59,1027.87 949.69,1027.64 948.77,1027.61 947.87,1027.79 947.03,1028.17 946.30,1028.73 941.99,1032.81 937.65,1036.87 937.04,1037.56 936.62,1038.38 936.38,1039.27 936.35,1040.19 936.53,1041.10 936.90,1041.94 937.45,1042.68 938.15,1043.27 938.96,1043.70 939.86,1043.94 940.78,1043.97 941.68,1043.79 942.52,1043.42zM965.62,1021.51 969.88,1017.35 974.13,1013.18 974.72,1012.47 975.13,1011.65 975.34,1010.75 975.35,1009.83 975.15,1008.93 974.76,1008.10 974.19,1007.37 973.48,1006.79 972.65,1006.38 971.76,1006.17 970.84,1006.16 969.94,1006.36 969.10,1006.75 968.39,1007.33 964.15,1011.49 959.89,1015.65 959.30,1016.35 958.89,1017.18 958.68,1018.07 958.67,1018.99 958.86,1019.89 959.25,1020.73 959.82,1021.45 960.53,1022.04 961.36,1022.45 962.25,1022.66 963.17,1022.67 964.07,1022.48 964.91,1022.09zM987.64,999.78 991.85,995.57 996.05,991.36 996.63,990.64 997.03,989.81 997.23,988.92 997.23,987.99 997.02,987.10 996.62,986.27 996.05,985.55 995.33,984.98 994.50,984.58 993.60,984.37 992.68,984.38 991.78,984.58 990.95,984.98 990.24,985.57 986.04,989.78 981.84,993.99 981.26,994.70 980.86,995.53 980.65,996.42 980.65,997.34 980.86,998.24 981.26,999.07 981.83,999.79 982.55,1000.37 983.38,1000.77 984.28,1000.97 985.20,1000.97 986.10,1000.77 986.93,1000.37zM1009.46,977.83 1013.64,973.59 1017.81,969.35 1018.39,968.63 1018.79,967.80 1018.98,966.90 1018.98,965.98 1018.77,965.08 1018.36,964.26 1017.78,963.54 1017.06,962.97 1016.22,962.58 1015.32,962.38 1014.40,962.39 1013.51,962.60 1012.68,963.01 1011.97,963.59 1007.80,967.83 1003.62,972.07 1003.04,972.78 1002.65,973.61 1002.45,974.51 1002.45,975.43 1002.67,976.33 1003.07,977.16 1003.65,977.87 1004.37,978.44 1005.21,978.84 1006.11,979.04 1007.03,979.03 1007.92,978.82 1008.75,978.41zM1031.19,955.75 1035.36,951.51 1039.53,947.27 1040.11,946.55 1040.50,945.72 1040.70,944.82 1040.69,943.90 1040.48,943.00 1040.07,942.17 1039.49,941.46 1038.77,940.89 1037.94,940.50 1037.04,940.30 1036.12,940.31 1035.22,940.52 1034.39,940.93 1033.69,941.52 1029.51,945.76 1025.34,950.00 1024.77,950.72 1024.37,951.55 1024.18,952.45 1024.18,953.37 1024.40,954.27 1024.80,955.09 1025.38,955.81 1026.11,956.38 1026.94,956.77 1027.84,956.97 1028.76,956.96 1029.66,956.75 1030.48,956.34zM1052.94,933.66 1057.12,929.43 1061.31,925.21 1061.89,924.50 1062.28,923.66 1062.48,922.76 1062.48,921.84 1062.27,920.95 1061.87,920.12 1061.29,919.40 1060.57,918.83 1059.74,918.43 1058.84,918.23 1057.92,918.24 1057.02,918.45 1056.19,918.85 1055.48,919.44 1051.29,923.66 1047.11,927.90 1046.53,928.61 1046.13,929.44 1045.93,930.34 1045.94,931.26 1046.15,932.16 1046.55,932.99 1047.13,933.70 1047.85,934.27 1048.69,934.67 1049.59,934.87 1050.51,934.86 1051.40,934.65 1052.23,934.25zM1074.81,911.67 1079.02,907.48 1083.24,903.29 1083.83,902.58 1084.23,901.75 1084.44,900.86 1084.44,899.93 1084.24,899.04 1083.85,898.20 1083.28,897.48 1082.56,896.90 1081.73,896.50 1080.83,896.29 1079.91,896.29 1079.01,896.49 1078.18,896.89 1077.47,897.47 1073.24,901.66 1069.02,905.86 1068.44,906.57 1068.03,907.40 1067.83,908.30 1067.83,909.22 1068.03,910.11 1068.43,910.95 1069.00,911.67 1069.72,912.24 1070.55,912.64 1071.44,912.85 1072.36,912.85 1073.26,912.65 1074.09,912.25zM1096.90,889.88 1101.16,885.73 1105.43,881.60 1106.03,880.90 1106.44,880.08 1106.66,879.18 1106.67,878.26 1106.48,877.36 1106.10,876.52 1105.54,875.79 1104.82,875.21 1104.00,874.80 1103.11,874.58 1102.19,874.56 1101.29,874.75 1100.45,875.14 1099.73,875.71 1095.45,879.85 1091.18,884.00 1090.59,884.70 1090.17,885.53 1089.96,886.42 1089.94,887.34 1090.14,888.24 1090.52,889.08 1091.09,889.81 1091.80,890.39 1092.62,890.80 1093.52,891.02 1094.44,891.03 1095.34,890.84 1096.18,890.45zM1119.28,868.36 1123.60,864.28 1127.93,860.21 1128.54,859.52 1128.96,858.70 1129.19,857.81 1129.22,856.89 1129.05,855.99 1128.67,855.14 1128.12,854.41 1127.42,853.81 1126.60,853.38 1125.71,853.15 1124.79,853.12 1123.89,853.30 1123.05,853.67 1122.32,854.23 1117.97,858.31 1113.64,862.40 1113.04,863.09 1112.62,863.91 1112.39,864.80 1112.36,865.72 1112.54,866.63 1112.92,867.47 1113.47,868.20 1114.17,868.80 1114.99,869.22 1115.88,869.45 1116.80,869.48 1117.71,869.30 1118.55,868.92zM1142.00,847.18 1146.39,843.18 1150.79,839.19 1151.41,838.51 1151.85,837.70 1152.10,836.81 1152.15,835.89 1151.99,834.99 1151.63,834.14 1151.09,833.39 1150.40,832.78 1149.59,832.34 1148.70,832.09 1147.78,832.04 1146.88,832.21 1146.03,832.56 1145.29,833.11 1140.87,837.11 1136.47,841.13 1135.86,841.81 1135.42,842.62 1135.17,843.51 1135.13,844.43 1135.29,845.33 1135.66,846.18 1136.20,846.93 1136.89,847.53 1137.70,847.97 1138.59,848.22 1139.51,848.26 1140.41,848.09 1141.26,847.73zM1165.12,826.43 1169.59,822.52 1174.08,818.62 1174.71,817.96 1175.17,817.16 1175.44,816.28 1175.50,815.36 1175.36,814.45 1175.02,813.59 1174.50,812.83 1173.82,812.21 1173.02,811.75 1172.14,811.48 1171.22,811.42 1170.31,811.56 1169.46,811.90 1168.71,812.43 1164.20,816.33 1159.72,820.26 1159.09,820.93 1158.64,821.73 1158.37,822.61 1158.31,823.53 1158.46,824.44 1158.80,825.30 1159.32,826.05 1160.00,826.67 1160.81,827.13 1161.69,827.39 1162.61,827.45 1163.52,827.31 1164.37,826.96zM1188.70,806.18 1193.26,802.38 1197.84,798.59 1198.48,797.94 1198.96,797.15 1199.25,796.27 1199.33,795.36 1199.22,794.44 1198.90,793.58 1198.39,792.81 1197.73,792.17 1196.94,791.69 1196.07,791.41 1195.15,791.32 1194.24,791.44 1193.37,791.76 1192.61,792.27 1188.02,796.07 1183.44,799.89 1182.80,800.54 1182.33,801.33 1182.04,802.21 1181.96,803.13 1182.08,804.04 1182.40,804.90 1182.91,805.67 1183.58,806.31 1184.37,806.78 1185.24,807.06 1186.16,807.15 1187.07,807.02 1187.94,806.70zM1212.75,786.50 1217.40,782.80 1222.07,779.13 1222.74,778.49 1223.23,777.71 1223.54,776.85 1223.65,775.93 1223.55,775.02 1223.26,774.14 1222.77,773.36 1222.12,772.71 1221.35,772.21 1220.48,771.90 1219.56,771.79 1218.65,771.89 1217.78,772.19 1217.00,772.68 1212.32,776.37 1207.65,780.08 1206.99,780.72 1206.50,781.49 1206.20,782.36 1206.09,783.28 1206.19,784.19 1206.49,785.06 1206.98,785.84 1207.63,786.50 1208.41,786.99 1209.28,787.29 1210.20,787.40 1211.11,787.30 1211.98,786.99zM1237.29,767.40 1242.03,763.82 1246.79,760.27 1247.47,759.65 1247.98,758.88 1248.31,758.03 1248.44,757.11 1248.37,756.20 1248.09,755.32 1247.63,754.52 1247.00,753.85 1246.23,753.34 1245.37,753.01 1244.46,752.87 1243.54,752.95 1242.67,753.22 1241.88,753.70 1237.10,757.27 1232.35,760.86 1231.67,761.48 1231.16,762.25 1230.83,763.11 1230.71,764.02 1230.78,764.94 1231.07,765.81 1231.53,766.61 1232.17,767.28 1232.93,767.79 1233.80,768.11 1234.71,768.24 1235.62,768.16 1236.50,767.88zM1262.29,748.94 1267.12,745.48 1271.97,742.05 1272.66,741.45 1273.20,740.70 1273.55,739.85 1273.71,738.94 1273.66,738.02 1273.40,737.13 1272.96,736.33 1272.35,735.64 1271.60,735.11 1270.74,734.75 1269.84,734.60 1268.92,734.65 1268.03,734.90 1267.23,735.36 1262.37,738.80 1257.52,742.27 1256.83,742.87 1256.30,743.62 1255.95,744.48 1255.80,745.39 1255.85,746.31 1256.11,747.19 1256.56,747.99 1257.18,748.68 1257.93,749.21 1258.78,749.56 1259.69,749.71 1260.61,749.65 1261.49,749.40zM1287.75,731.13 1292.67,727.80 1297.61,724.50 1298.32,723.92 1298.87,723.18 1299.25,722.34 1299.43,721.44 1299.40,720.52 1299.17,719.63 1298.75,718.81 1298.16,718.10 1297.42,717.55 1296.58,717.17 1295.68,717.00 1294.75,717.02 1293.86,717.25 1293.05,717.69 1288.10,721.00 1283.16,724.34 1282.45,724.92 1281.90,725.66 1281.53,726.51 1281.36,727.41 1281.39,728.33 1281.62,729.22 1282.05,730.04 1282.65,730.74 1283.39,731.29 1284.23,731.66 1285.13,731.83 1286.05,731.80 1286.94,731.57zM1313.66,714.02 1318.67,710.82 1323.70,707.66 1324.42,707.09 1325.00,706.37 1325.39,705.54 1325.60,704.64 1325.60,703.72 1325.39,702.82 1324.99,701.99 1324.41,701.28 1323.69,700.70 1322.86,700.30 1321.96,700.10 1321.04,700.10 1320.15,700.31 1319.32,700.72 1314.28,703.90 1309.26,707.10 1308.53,707.67 1307.96,708.39 1307.57,709.23 1307.37,710.13 1307.38,711.05 1307.59,711.94 1307.99,712.77 1308.57,713.49 1309.29,714.06 1310.13,714.45 1311.03,714.65 1311.95,714.64 1312.84,714.43zM1340.01,697.62 1345.10,694.57 1350.21,691.54 1350.95,691.00 1351.55,690.29 1351.97,689.47 1352.19,688.58 1352.22,687.66 1352.04,686.76 1351.66,685.92 1351.10,685.18 1350.40,684.59 1349.58,684.17 1348.69,683.94 1347.77,683.92 1346.86,684.10 1346.03,684.49 1340.90,687.53 1335.79,690.59 1335.05,691.14 1334.46,691.85 1334.05,692.67 1333.82,693.56 1333.80,694.48 1333.99,695.39 1334.37,696.22 1334.93,696.96 1335.64,697.54 1336.46,697.96 1337.35,698.18 1338.28,698.20 1339.18,698.02zM1366.77,681.98 1371.94,679.07 1377.13,676.18 1377.89,675.66 1378.50,674.97 1378.95,674.16 1379.20,673.28 1379.25,672.36 1379.09,671.45 1378.74,670.60 1378.20,669.85 1377.51,669.24 1376.71,668.79 1375.82,668.54 1374.90,668.49 1373.99,668.65 1373.15,669.01 1367.94,671.91 1362.75,674.83 1361.99,675.36 1361.38,676.05 1360.94,676.86 1360.70,677.75 1360.65,678.67 1360.81,679.57 1361.17,680.42 1361.71,681.17 1362.40,681.78 1363.21,682.22 1364.10,682.47 1365.02,682.51 1365.93,682.35zM1393.92,667.10 1399.17,664.34 1404.44,661.60 1405.21,661.10 1405.84,660.42 1406.31,659.63 1406.59,658.75 1406.66,657.83 1406.53,656.92 1406.20,656.06 1405.69,655.30 1405.02,654.67 1404.22,654.20 1403.35,653.92 1402.43,653.85 1401.52,653.98 1400.66,654.32 1395.37,657.07 1390.10,659.85 1389.33,660.35 1388.70,661.03 1388.24,661.82 1387.97,662.70 1387.90,663.62 1388.03,664.53 1388.37,665.39 1388.89,666.15 1389.56,666.78 1390.36,667.24 1391.24,667.51 1392.15,667.58 1393.07,667.45zM1421.44,653.01 1426.77,650.39 1432.11,647.80 1432.90,647.32 1433.55,646.67 1434.04,645.89 1434.34,645.02 1434.44,644.11 1434.33,643.19 1434.03,642.32 1433.54,641.54 1432.88,640.89 1432.10,640.40 1431.23,640.10 1430.32,640.00 1429.40,640.11 1428.54,640.42 1423.17,643.02 1417.82,645.65 1417.04,646.13 1416.40,646.79 1415.91,647.57 1415.61,648.45 1415.52,649.36 1415.63,650.28 1415.94,651.14 1416.43,651.92 1417.09,652.57 1417.87,653.05 1418.75,653.35 1419.66,653.44 1420.58,653.33zM1449.32,639.71 1454.72,637.24 1460.14,634.81 1460.93,634.35 1461.60,633.71 1462.11,632.95 1462.44,632.09 1462.56,631.17 1462.49,630.26 1462.20,629.38 1461.73,628.59 1461.10,627.92 1460.33,627.41 1459.47,627.08 1458.56,626.96 1457.64,627.04 1456.77,627.33 1451.33,629.78 1445.91,632.25 1445.12,632.71 1444.45,633.35 1443.95,634.12 1443.62,634.99 1443.50,635.90 1443.59,636.82 1443.87,637.69 1444.35,638.48 1444.99,639.14 1445.76,639.65 1446.62,639.97 1447.53,640.09 1448.45,640.01zM1477.55,627.20 1483.02,624.89 1488.50,622.60 1489.31,622.17 1489.99,621.55 1490.53,620.80 1490.88,619.95 1491.03,619.04 1490.97,618.12 1490.72,617.24 1490.27,616.43 1489.66,615.75 1488.90,615.22 1488.05,614.86 1487.14,614.71 1486.22,614.77 1485.34,615.04 1479.84,617.33 1474.35,619.65 1473.54,620.09 1472.86,620.71 1472.34,621.47 1471.99,622.32 1471.84,623.23 1471.90,624.15 1472.16,625.03 1472.61,625.83 1473.23,626.52 1473.99,627.04 1474.84,627.39 1475.75,627.54 1476.67,627.48zM1506.12,615.49 1511.65,613.32 1517.19,611.19 1518.02,610.78 1518.72,610.18 1519.27,609.44 1519.64,608.60 1519.82,607.70 1519.79,606.78 1519.56,605.89 1519.13,605.07 1518.54,604.37 1517.80,603.82 1516.96,603.44 1516.06,603.26 1515.13,603.29 1514.25,603.54 1508.69,605.68 1503.13,607.85 1502.31,608.27 1501.62,608.87 1501.07,609.61 1500.70,610.45 1500.53,611.36 1500.56,612.28 1500.80,613.17 1501.23,613.98 1501.83,614.68 1502.57,615.23 1503.41,615.60 1504.31,615.77 1505.23,615.74zM1535.02,604.55 1540.61,602.54 1546.21,600.56 1547.04,600.17 1547.76,599.59 1548.33,598.87 1548.73,598.04 1548.93,597.14 1548.92,596.22 1548.72,595.32 1548.31,594.49 1547.74,593.78 1547.01,593.20 1546.18,592.81 1545.28,592.61 1544.36,592.61 1543.47,592.83 1537.85,594.82 1532.24,596.84 1531.41,597.23 1530.70,597.81 1530.13,598.54 1529.74,599.37 1529.54,600.27 1529.55,601.19 1529.76,602.09 1530.17,602.91 1530.75,603.63 1531.47,604.20 1532.31,604.59 1533.21,604.79 1534.13,604.78zM1564.24,594.39 1569.88,592.53 1575.53,590.70 1576.37,590.33 1577.10,589.77 1577.69,589.06 1578.11,588.24 1578.34,587.35 1578.36,586.43 1578.18,585.53 1577.79,584.69 1577.24,583.96 1576.53,583.37 1575.71,582.95 1574.82,582.72 1573.90,582.70 1573.00,582.90 1567.33,584.74 1561.67,586.61 1560.83,586.98 1560.10,587.54 1559.51,588.25 1559.10,589.07 1558.88,589.97 1558.86,590.89 1559.05,591.79 1559.43,592.62 1559.99,593.35 1560.70,593.94 1561.53,594.36 1562.42,594.58 1563.34,594.59zM1593.76,584.99 1599.45,583.28 1605.15,581.59 1606.00,581.24 1606.74,580.70 1607.35,580.01 1607.79,579.20 1608.04,578.32 1608.09,577.40 1607.92,576.49 1607.57,575.64 1607.03,574.89 1606.34,574.28 1605.53,573.85 1604.64,573.60 1603.72,573.55 1602.82,573.73 1597.10,575.42 1591.40,577.14 1590.55,577.49 1589.80,578.03 1589.20,578.73 1588.76,579.54 1588.52,580.43 1588.48,581.35 1588.64,582.25 1589.00,583.10 1589.55,583.84 1590.24,584.45 1591.05,584.88 1591.94,585.13 1592.86,585.17zM1623.58,576.33 1629.32,574.76 1635.06,573.19 1635.92,572.86 1636.67,572.34 1637.30,571.66 1637.75,570.86 1638.02,569.98 1638.09,569.06 1637.94,568.15 1637.60,567.29 1637.08,566.54 1636.40,565.91 1635.60,565.46 1634.72,565.19 1633.80,565.12 1632.90,565.28 1627.15,566.85 1621.41,568.42 1620.56,568.75 1619.80,569.27 1619.17,569.95 1618.72,570.75 1618.45,571.63 1618.39,572.55 1618.53,573.46 1618.87,574.32 1619.40,575.08 1620.08,575.70 1620.88,576.15 1621.76,576.42 1622.68,576.48z"/>
<path fill="#000000" d="M261.51,1154.00 262.46,1154.00 263.38,1153.90 264.25,1153.60 265.02,1153.10 265.67,1152.45 266.16,1151.67 266.46,1150.80 266.56,1149.88 266.46,1148.97 266.15,1148.10 265.66,1147.32 265.00,1146.67 264.22,1146.19 263.35,1145.88 262.44,1145.80 261.49,1145.80 260.57,1145.89 259.70,1146.20 258.93,1146.69 258.28,1147.35 257.79,1148.13 257.49,1149.00 257.39,1149.91 257.49,1150.83 257.80,1151.70 258.29,1152.47 258.95,1153.12 259.73,1153.61 260.60,1153.91zM275.35,1153.95 276.30,1153.95 277.22,1153.86 278.09,1153.55 278.86,1153.06 279.51,1152.40 280.00,1151.62 280.30,1150.75 280.40,1149.83 280.29,1148.92 279.99,1148.05 279.49,1147.27 278.84,1146.62 278.06,1146.14 277.19,1145.84 276.27,1145.75 275.32,1145.75 274.41,1145.85 273.54,1146.15 272.76,1146.65 272.11,1147.30 271.63,1148.08 271.32,1148.95 271.22,1149.87 271.33,1150.78 271.64,1151.65 272.13,1152.43 272.79,1153.08 273.57,1153.57 274.44,1153.87zM289.19,1153.90 290.14,1153.89 291.06,1153.80 291.93,1153.49 292.70,1153.00 293.35,1152.34 293.84,1151.56 294.14,1150.69 294.24,1149.77 294.13,1148.86 293.82,1147.99 293.33,1147.21 292.68,1146.57 291.89,1146.08 291.02,1145.78 290.11,1145.69 289.16,1145.70 288.24,1145.79 287.37,1146.10 286.60,1146.59 285.95,1147.25 285.46,1148.03 285.16,1148.90 285.06,1149.81 285.17,1150.73 285.48,1151.60 285.97,1152.37 286.63,1153.02 287.41,1153.51 288.28,1153.81zM303.03,1153.83 303.98,1153.83 304.90,1153.73 305.77,1153.42 306.54,1152.93 307.19,1152.28 307.68,1151.49 307.98,1150.62 308.08,1149.71 307.97,1148.79 307.66,1147.92 307.17,1147.15 306.51,1146.50 305.73,1146.01 304.86,1145.71 303.94,1145.63 302.99,1145.63 302.08,1145.73 301.21,1146.04 300.43,1146.53 299.78,1147.18 299.30,1147.97 299.00,1148.84 298.90,1149.75 299.01,1150.67 299.32,1151.53 299.81,1152.31 300.46,1152.96 301.25,1153.45 302.12,1153.75zM316.87,1153.76 317.82,1153.75 318.74,1153.66 319.61,1153.35 320.38,1152.86 321.03,1152.20 321.52,1151.42 321.82,1150.55 321.91,1149.63 321.81,1148.72 321.50,1147.85 321.00,1147.07 320.35,1146.43 319.56,1145.94 318.69,1145.64 317.78,1145.55 316.83,1145.56 315.91,1145.66 315.05,1145.96 314.27,1146.46 313.62,1147.11 313.14,1147.90 312.84,1148.77 312.74,1149.68 312.85,1150.60 313.15,1151.46 313.65,1152.24 314.30,1152.89 315.09,1153.38 315.96,1153.67zM330.71,1153.68 331.66,1153.68 332.58,1153.58 333.44,1153.27 334.22,1152.78 334.87,1152.12 335.35,1151.34 335.65,1150.47 335.75,1149.55 335.64,1148.64 335.33,1147.77 334.84,1146.99 334.18,1146.35 333.40,1145.86 332.53,1145.56 331.61,1145.48 330.66,1145.48 329.75,1145.58 328.88,1145.89 328.10,1146.38 327.46,1147.04 326.97,1147.82 326.67,1148.69 326.58,1149.61 326.68,1150.52 326.99,1151.39 327.49,1152.17 328.14,1152.81 328.93,1153.30 329.80,1153.60zM344.55,1153.60 345.50,1153.59 346.42,1153.50 347.28,1153.19 348.06,1152.69 348.71,1152.04 349.19,1151.25 349.49,1150.38 349.59,1149.47 349.48,1148.55 349.17,1147.69 348.68,1146.91 348.02,1146.26 347.24,1145.78 346.37,1145.48 345.45,1145.39 344.50,1145.40 343.59,1145.49 342.72,1145.80 341.94,1146.30 341.29,1146.95 340.81,1147.74 340.51,1148.61 340.41,1149.52 340.52,1150.44 340.83,1151.31 341.33,1152.08 341.98,1152.73 342.76,1153.22 343.64,1153.51zM358.39,1153.51 359.34,1153.50 360.25,1153.41 361.12,1153.10 361.90,1152.60 362.55,1151.95 363.03,1151.16 363.33,1150.29 363.43,1149.38 363.32,1148.46 363.01,1147.60 362.51,1146.82 361.86,1146.17 361.07,1145.69 360.20,1145.39 359.29,1145.30 358.34,1145.31 357.42,1145.41 356.55,1145.72 355.78,1146.21 355.13,1146.87 354.65,1147.65 354.35,1148.52 354.25,1149.44 354.36,1150.35 354.67,1151.22 355.16,1152.00 355.82,1152.64 356.60,1153.13 357.47,1153.43zM372.23,1153.41 373.18,1153.41 374.10,1153.31 374.96,1153.00 375.74,1152.50 376.39,1151.85 376.87,1151.06 377.17,1150.19 377.26,1149.27 377.15,1148.36 376.84,1147.49 376.35,1146.72 375.69,1146.07 374.91,1145.59 374.03,1145.29 373.12,1145.21 372.17,1145.21 371.25,1145.31 370.39,1145.62 369.61,1146.12 368.97,1146.77 368.48,1147.56 368.18,1148.43 368.09,1149.35 368.20,1150.26 368.51,1151.13 369.00,1151.90 369.66,1152.55 370.44,1153.03 371.32,1153.33zM386.07,1153.30 387.02,1153.29 387.94,1153.19 388.80,1152.88 389.58,1152.39 390.23,1151.73 390.71,1150.95 391.01,1150.07 391.10,1149.16 390.99,1148.24 390.68,1147.38 390.18,1146.60 389.52,1145.96 388.74,1145.47 387.87,1145.18 386.95,1145.09 386.00,1145.10 385.09,1145.20 384.22,1145.51 383.45,1146.01 382.80,1146.66 382.32,1147.45 382.02,1148.32 381.92,1149.24 382.04,1150.15 382.35,1151.02 382.84,1151.79 383.50,1152.44 384.29,1152.92 385.16,1153.22zM399.91,1153.18 400.86,1153.17 401.78,1153.07 402.64,1152.76 403.42,1152.26 404.06,1151.60 404.55,1150.82 404.84,1149.95 404.94,1149.03 404.83,1148.12 404.51,1147.25 404.02,1146.47 403.36,1145.83 402.57,1145.35 401.70,1145.05 400.79,1144.97 399.84,1144.98 398.92,1145.08 398.06,1145.39 397.28,1145.89 396.64,1146.54 396.15,1147.33 395.86,1148.20 395.76,1149.12 395.87,1150.03 396.19,1150.90 396.68,1151.67 397.34,1152.32 398.13,1152.80 399.00,1153.10zM413.75,1153.04 414.70,1153.04 415.62,1152.94 416.48,1152.62 417.26,1152.13 417.90,1151.47 418.38,1150.68 418.68,1149.81 418.77,1148.90 418.66,1147.98 418.35,1147.11 417.85,1146.34 417.19,1145.69 416.41,1145.21 415.54,1144.92 414.62,1144.84 413.67,1144.84 412.76,1144.94 411.89,1145.26 411.12,1145.75 410.47,1146.41 409.99,1147.20 409.69,1148.07 409.60,1148.98 409.71,1149.90 410.02,1150.77 410.52,1151.54 411.18,1152.19 411.96,1152.67 412.84,1152.96zM427.59,1152.91 428.54,1152.90 429.45,1152.80 430.32,1152.49 431.10,1151.99 431.74,1151.33 432.22,1150.55 432.52,1149.67 432.61,1148.76 432.50,1147.84 432.19,1146.98 431.69,1146.20 431.03,1145.56 430.25,1145.07 429.37,1144.78 428.46,1144.70 427.51,1144.71 426.59,1144.81 425.73,1145.12 424.95,1145.62 424.31,1146.28 423.83,1147.06 423.53,1147.93 423.44,1148.85 423.55,1149.76 423.86,1150.63 424.36,1151.40 425.02,1152.05 425.80,1152.53 426.67,1152.83zM441.43,1152.77 442.38,1152.76 443.29,1152.66 444.16,1152.35 444.93,1151.85 445.58,1151.19 446.06,1150.41 446.35,1149.54 446.45,1148.62 446.34,1147.71 446.02,1146.84 445.53,1146.06 444.87,1145.42 444.08,1144.94 443.21,1144.64 442.30,1144.56 441.35,1144.57 440.43,1144.67 439.56,1144.98 438.79,1145.48 438.15,1146.14 437.66,1146.92 437.37,1147.79 437.27,1148.71 437.39,1149.62 437.70,1150.49 438.20,1151.27 438.85,1151.91 439.64,1152.39 440.51,1152.69zM455.26,1152.63 456.21,1152.62 457.13,1152.53 457.99,1152.21 458.77,1151.72 459.41,1151.06 459.90,1150.27 460.19,1149.40 460.29,1148.49 460.17,1147.57 459.86,1146.71 459.36,1145.93 458.71,1145.28 457.92,1144.80 457.05,1144.51 456.13,1144.43 455.18,1144.43 454.27,1144.53 453.40,1144.85 452.63,1145.34 451.98,1146.00 451.50,1146.79 451.20,1147.66 451.11,1148.57 451.22,1149.49 451.53,1150.35 452.03,1151.13 452.69,1151.77 453.47,1152.26 454.35,1152.55zM469.10,1152.50 470.05,1152.49 470.96,1152.40 471.83,1152.08 472.60,1151.59 473.25,1150.93 473.73,1150.14 474.03,1149.27 474.12,1148.36 474.01,1147.44 473.70,1146.58 473.20,1145.80 472.54,1145.16 471.76,1144.67 470.89,1144.38 469.97,1144.30 469.02,1144.30 468.11,1144.40 467.24,1144.71 466.47,1145.21 465.82,1145.87 465.34,1146.65 465.04,1147.53 464.95,1148.44 465.06,1149.36 465.37,1150.22 465.87,1151.00 466.53,1151.64 467.31,1152.13 468.18,1152.42zM482.94,1152.38 483.89,1152.37 484.80,1152.27 485.67,1151.96 486.44,1151.46 487.09,1150.80 487.57,1150.02 487.87,1149.15 487.96,1148.23 487.85,1147.32 487.54,1146.45 487.04,1145.67 486.38,1145.03 485.60,1144.55 484.73,1144.25 483.81,1144.17 482.86,1144.18 481.95,1144.27 481.08,1144.59 480.30,1145.08 479.66,1145.74 479.18,1146.53 478.88,1147.40 478.78,1148.31 478.90,1149.23 479.21,1150.09 479.71,1150.87 480.36,1151.52 481.15,1152.00 482.02,1152.29zM496.77,1152.25 497.72,1152.24 498.64,1152.14 499.50,1151.83 500.28,1151.33 500.92,1150.67 501.41,1149.89 501.70,1149.02 501.80,1148.10 501.69,1147.19 501.37,1146.32 500.88,1145.55 500.22,1144.90 499.43,1144.42 498.56,1144.12 497.65,1144.04 496.70,1144.05 495.78,1144.15 494.92,1144.46 494.14,1144.96 493.50,1145.61 493.01,1146.40 492.72,1147.27 492.62,1148.19 492.73,1149.10 493.05,1149.97 493.54,1150.74 494.20,1151.39 494.98,1151.87 495.86,1152.17zM510.61,1152.12 511.56,1152.11 512.48,1152.01 513.34,1151.70 514.12,1151.20 514.76,1150.54 515.24,1149.76 515.54,1148.89 515.63,1147.97 515.52,1147.06 515.21,1146.19 514.71,1145.41 514.06,1144.77 513.27,1144.29 512.40,1143.99 511.48,1143.91 510.53,1143.92 509.62,1144.02 508.75,1144.33 507.98,1144.83 507.33,1145.48 506.85,1146.27 506.55,1147.14 506.46,1148.06 506.57,1148.97 506.88,1149.84 507.38,1150.61 508.04,1151.26 508.82,1151.74 509.69,1152.04zM524.45,1151.98 525.40,1151.97 526.31,1151.87 527.18,1151.56 527.96,1151.06 528.60,1150.41 529.08,1149.62 529.38,1148.75 529.47,1147.83 529.36,1146.92 529.05,1146.05 528.55,1145.28 527.89,1144.63 527.11,1144.15 526.23,1143.86 525.32,1143.77 524.37,1143.78 523.45,1143.88 522.59,1144.20 521.81,1144.69 521.17,1145.35 520.69,1146.14 520.39,1147.01 520.30,1147.92 520.41,1148.84 520.72,1149.71 521.22,1150.48 521.88,1151.12 522.66,1151.61 523.53,1151.90zM538.29,1151.84 539.24,1151.83 540.15,1151.73 541.02,1151.42 541.79,1150.92 542.44,1150.26 542.92,1149.48 543.22,1148.60 543.31,1147.69 543.20,1146.77 542.88,1145.91 542.38,1145.13 541.73,1144.49 540.94,1144.01 540.07,1143.71 539.15,1143.63 538.20,1143.64 537.29,1143.74 536.42,1144.06 535.65,1144.55 535.00,1145.21 534.52,1146.00 534.23,1146.87 534.13,1147.79 534.25,1148.70 534.56,1149.57 535.06,1150.34 535.72,1150.98 536.50,1151.47 537.37,1151.76zM552.13,1151.69 553.08,1151.68 553.99,1151.58 554.86,1151.27 555.63,1150.77 556.28,1150.11 556.76,1149.32 557.05,1148.45 557.15,1147.53 557.03,1146.62 556.72,1145.75 556.22,1144.98 555.56,1144.34 554.78,1143.86 553.90,1143.56 552.99,1143.48 552.04,1143.49 551.12,1143.59 550.26,1143.91 549.48,1144.40 548.84,1145.06 548.36,1145.85 548.06,1146.72 547.97,1147.64 548.08,1148.55 548.40,1149.42 548.90,1150.19 549.56,1150.84 550.34,1151.32 551.21,1151.61zM565.97,1151.53 566.92,1151.52 567.83,1151.42 568.70,1151.11 569.47,1150.61 570.11,1149.95 570.60,1149.16 570.89,1148.29 570.98,1147.37 570.87,1146.46 570.55,1145.59 570.06,1144.82 569.40,1144.18 568.61,1143.69 567.74,1143.40 566.82,1143.32 565.87,1143.33 564.96,1143.43 564.09,1143.75 563.32,1144.25 562.68,1144.90 562.19,1145.69 561.90,1146.56 561.81,1147.48 561.92,1148.39 562.23,1149.26 562.73,1150.03 563.39,1150.68 564.18,1151.16 565.05,1151.45zM579.80,1151.38 580.75,1151.37 581.67,1151.27 582.53,1150.95 583.31,1150.45 583.95,1149.80 584.43,1149.01 584.73,1148.14 584.82,1147.22 584.71,1146.31 584.39,1145.44 583.89,1144.67 583.24,1144.02 582.45,1143.54 581.58,1143.25 580.66,1143.17 579.71,1143.18 578.80,1143.28 577.93,1143.59 577.16,1144.09 576.51,1144.75 576.03,1145.53 575.74,1146.41 575.64,1147.32 575.76,1148.24 576.07,1149.10 576.57,1149.88 577.23,1150.52 578.01,1151.00 578.89,1151.30zM593.64,1151.22 594.59,1151.21 595.50,1151.11 596.37,1150.80 597.14,1150.30 597.79,1149.64 598.27,1148.85 598.56,1147.98 598.66,1147.06 598.54,1146.15 598.23,1145.28 597.73,1144.51 597.07,1143.87 596.29,1143.39 595.41,1143.09 594.50,1143.01 593.55,1143.02 592.63,1143.12 591.77,1143.44 590.99,1143.94 590.35,1144.60 589.87,1145.38 589.57,1146.25 589.48,1147.17 589.59,1148.08 589.91,1148.95 590.41,1149.72 591.07,1150.37 591.85,1150.85 592.72,1151.14zM607.48,1151.05 608.43,1151.04 609.35,1150.94 610.21,1150.62 610.99,1150.12 611.63,1149.47 612.11,1148.68 612.40,1147.81 612.49,1146.89 612.38,1145.98 612.06,1145.11 611.56,1144.34 610.90,1143.69 610.12,1143.21 609.24,1142.92 608.33,1142.84 607.38,1142.86 606.46,1142.96 605.60,1143.27 604.82,1143.77 604.18,1144.43 603.70,1145.22 603.41,1146.09 603.32,1147.01 603.43,1147.92 603.75,1148.79 604.25,1149.56 604.91,1150.20 605.69,1150.68 606.57,1150.98zM621.33,1150.86 622.28,1150.85 623.19,1150.74 624.06,1150.43 624.83,1149.93 625.47,1149.26 625.95,1148.48 626.24,1147.60 626.33,1146.69 626.21,1145.77 625.89,1144.91 625.39,1144.14 624.73,1143.50 623.95,1143.02 623.07,1142.73 622.15,1142.65 621.20,1142.66 620.29,1142.77 619.43,1143.09 618.65,1143.59 618.01,1144.25 617.53,1145.03 617.24,1145.91 617.15,1146.83 617.27,1147.74 617.59,1148.60 618.09,1149.38 618.75,1150.02 619.54,1150.50 620.41,1150.79zM635.18,1150.64 636.13,1150.62 637.04,1150.51 637.90,1150.19 638.67,1149.69 639.31,1149.02 639.79,1148.24 640.08,1147.36 640.16,1146.44 640.04,1145.53 639.73,1144.67 639.22,1143.90 638.56,1143.26 637.77,1142.78 636.89,1142.49 635.98,1142.42 635.03,1142.44 634.11,1142.54 633.25,1142.86 632.48,1143.37 631.84,1144.03 631.37,1144.82 631.08,1145.69 630.99,1146.61 631.11,1147.52 631.43,1148.39 631.93,1149.16 632.60,1149.80 633.39,1150.27 634.26,1150.56zM649.03,1150.36 649.98,1150.34 650.89,1150.23 651.75,1149.91 652.52,1149.40 653.16,1148.73 653.63,1147.94 653.92,1147.07 654.00,1146.15 653.88,1145.24 653.55,1144.38 653.05,1143.61 652.38,1142.97 651.59,1142.50 650.71,1142.21 649.80,1142.14 648.85,1142.16 647.93,1142.27 647.07,1142.60 646.30,1143.10 645.67,1143.77 645.19,1144.56 644.91,1145.44 644.83,1146.35 644.95,1147.27 645.27,1148.13 645.78,1148.90 646.44,1149.53 647.23,1150.01 648.11,1150.29zM662.92,1150.00 663.87,1149.96 664.78,1149.84 665.64,1149.50 666.40,1148.99 667.02,1148.31 667.49,1147.52 667.76,1146.64 667.83,1145.72 667.69,1144.81 667.36,1143.95 666.84,1143.19 666.17,1142.56 665.37,1142.10 664.49,1141.82 663.57,1141.77 662.62,1141.80 661.71,1141.92 660.85,1142.26 660.09,1142.78 659.47,1143.45 659.00,1144.25 658.73,1145.13 658.66,1146.05 658.80,1146.96 659.13,1147.81 659.65,1148.58 660.32,1149.20 661.12,1149.67 662.00,1149.94zM676.81,1149.39 677.76,1149.34 678.66,1149.20 679.52,1148.85 680.27,1148.32 680.89,1147.64 681.34,1146.83 681.60,1145.95 681.65,1145.03 681.50,1144.12 681.15,1143.27 680.62,1142.52 679.94,1141.90 679.13,1141.45 678.25,1141.19 677.33,1141.15 676.38,1141.20 675.47,1141.33 674.62,1141.68 673.87,1142.21 673.25,1142.90 672.80,1143.70 672.54,1144.59 672.49,1145.50 672.64,1146.41 672.99,1147.27 673.52,1148.02 674.20,1148.64 675.00,1149.09 675.89,1149.34zM690.66,1148.61 691.61,1148.55 692.52,1148.40 693.37,1148.05 694.12,1147.51 694.73,1146.82 695.17,1146.01 695.42,1145.12 695.46,1144.20 695.30,1143.30 694.95,1142.45 694.41,1141.70 693.72,1141.09 692.91,1140.65 692.03,1140.40 691.11,1140.36 690.16,1140.42 689.25,1140.57 688.40,1140.93 687.65,1141.46 687.04,1142.15 686.60,1142.96 686.35,1143.85 686.31,1144.77 686.46,1145.68 686.82,1146.52 687.36,1147.27 688.05,1147.88 688.86,1148.32 689.74,1148.57zM704.55,1147.62 705.50,1147.54 706.40,1147.37 707.25,1147.00 707.98,1146.44 708.58,1145.74 709.00,1144.92 709.23,1144.03 709.26,1143.11 709.08,1142.21 708.70,1141.36 708.15,1140.63 707.45,1140.03 706.63,1139.61 705.74,1139.38 704.82,1139.37 703.87,1139.44 702.97,1139.61 702.13,1139.98 701.39,1140.54 700.80,1141.24 700.37,1142.06 700.14,1142.95 700.11,1143.87 700.29,1144.77 700.67,1145.62 701.22,1146.35 701.92,1146.95 702.74,1147.37 703.63,1147.60zM718.43,1146.30 719.38,1146.19 720.28,1146.01 721.11,1145.61 721.83,1145.04 722.41,1144.32 722.81,1143.49 723.02,1142.59 723.02,1141.67 722.82,1140.77 722.42,1139.94 721.85,1139.22 721.13,1138.64 720.30,1138.24 719.41,1138.03 718.49,1138.04 717.54,1138.15 716.64,1138.33 715.81,1138.73 715.09,1139.30 714.51,1140.02 714.11,1140.85 713.90,1141.75 713.90,1142.67 714.10,1143.57 714.50,1144.40 715.07,1145.12 715.79,1145.70 716.62,1146.10 717.51,1146.31zM732.40,1144.29 733.33,1144.13 734.22,1143.88 735.02,1143.43 735.70,1142.81 736.23,1142.05 736.58,1141.20 736.73,1140.29 736.67,1139.37 736.41,1138.49 735.96,1137.69 735.34,1137.00 734.58,1136.48 733.73,1136.13 732.82,1135.98 731.90,1136.05 730.97,1136.22 730.08,1136.46 729.28,1136.92 728.60,1137.53 728.07,1138.29 727.72,1139.14 727.57,1140.05 727.63,1140.97 727.89,1141.85 728.34,1142.66 728.96,1143.34 729.72,1143.87 730.57,1144.21 731.48,1144.36zM746.33,1141.81 747.26,1141.66 748.15,1141.43 748.96,1140.99 749.65,1140.38 750.19,1139.63 750.55,1138.79 750.72,1137.88 750.67,1136.96 750.43,1136.07 749.99,1135.26 749.38,1134.57 748.63,1134.03 747.79,1133.67 746.88,1133.51 745.96,1133.56 745.02,1133.71 744.13,1133.95 743.32,1134.39 742.63,1135.00 742.09,1135.74 741.73,1136.59 741.57,1137.50 741.61,1138.42 741.86,1139.30 742.30,1140.11 742.91,1140.81 743.65,1141.35 744.50,1141.70 745.41,1141.87zM760.50,1139.25 761.43,1139.05 762.30,1138.77 763.09,1138.29 763.75,1137.65 764.25,1136.88 764.57,1136.02 764.69,1135.10 764.60,1134.18 764.31,1133.31 763.83,1132.52 763.19,1131.86 762.42,1131.36 761.55,1131.04 760.64,1130.93 759.72,1131.03 758.79,1131.23 757.92,1131.51 757.13,1131.98 756.47,1132.62 755.97,1133.40 755.65,1134.26 755.53,1135.18 755.62,1136.09 755.91,1136.97 756.39,1137.75 757.03,1138.41 757.81,1138.92 758.67,1139.23 759.58,1139.35zM774.61,1135.67 775.51,1135.39 776.36,1135.03 777.10,1134.48 777.70,1133.79 778.13,1132.97 778.37,1132.08 778.41,1131.16 778.23,1130.26 777.87,1129.41 777.32,1128.67 776.62,1128.07 775.81,1127.64 774.92,1127.40 774.00,1127.37 773.09,1127.55 772.19,1127.83 771.34,1128.19 770.60,1128.74 770.00,1129.43 769.57,1130.25 769.33,1131.14 769.29,1132.06 769.47,1132.96 769.83,1133.81 770.38,1134.55 771.08,1135.15 771.89,1135.58 772.78,1135.82 773.70,1135.85zM788.36,1130.60 789.23,1130.21 790.03,1129.76 790.70,1129.13 791.21,1128.36 791.54,1127.50 791.67,1126.59 791.60,1125.67 791.32,1124.79 790.85,1124.00 790.22,1123.33 789.46,1122.82 788.60,1122.49 787.69,1122.36 786.77,1122.43 785.90,1122.72 785.03,1123.11 784.23,1123.56 783.56,1124.19 783.04,1124.96 782.71,1125.82 782.58,1126.73 782.66,1127.65 782.94,1128.52 783.40,1129.32 784.03,1129.99 784.80,1130.50 785.66,1130.83 786.57,1130.96 787.49,1130.89zM801.40,1123.83 802.21,1123.34 802.94,1122.78 803.53,1122.07 803.94,1121.25 804.16,1120.35 804.17,1119.43 803.97,1118.53 803.59,1117.69 803.02,1116.97 802.31,1116.38 801.48,1115.97 800.59,1115.76 799.67,1115.74 798.77,1115.94 797.94,1116.34 797.13,1116.83 796.39,1117.39 795.81,1118.10 795.40,1118.92 795.18,1119.82 795.17,1120.74 795.36,1121.64 795.75,1122.47 796.32,1123.20 797.03,1123.79 797.85,1124.20 798.75,1124.41 799.67,1124.42 800.57,1124.23zM813.44,1115.46 814.18,1114.87 814.84,1114.23 815.33,1113.45 815.64,1112.58 815.74,1111.67 815.64,1110.75 815.33,1109.88 814.84,1109.10 814.19,1108.45 813.41,1107.96 812.54,1107.65 811.63,1107.55 810.71,1107.65 809.84,1107.96 809.07,1108.46 808.33,1109.05 807.67,1109.69 807.18,1110.47 806.88,1111.34 806.77,1112.26 806.87,1113.17 807.18,1114.04 807.67,1114.82 808.32,1115.47 809.10,1115.96 809.97,1116.27 810.88,1116.37 811.80,1116.27 812.67,1115.96zM824.36,1105.77 825.03,1105.10 825.61,1104.39 826.02,1103.57 826.22,1102.67 826.23,1101.75 826.02,1100.85 825.62,1100.02 825.05,1099.30 824.33,1098.72 823.50,1098.32 822.61,1098.11 821.69,1098.11 820.79,1098.31 819.96,1098.71 819.24,1099.29 818.57,1099.96 817.99,1100.67 817.58,1101.50 817.38,1102.40 817.38,1103.32 817.58,1104.22 817.98,1105.05 818.55,1105.77 819.27,1106.35 820.10,1106.75 820.99,1106.95 821.92,1106.96 822.81,1106.75 823.64,1106.36zM834.18,1095.10 834.79,1094.37 835.31,1093.61 835.63,1092.75 835.76,1091.84 835.68,1090.92 835.39,1090.04 834.92,1089.25 834.29,1088.59 833.52,1088.08 832.66,1087.75 831.75,1087.63 830.83,1087.71 829.95,1087.99 829.16,1088.46 828.50,1089.10 827.89,1089.83 827.38,1090.59 827.05,1091.45 826.92,1092.37 827.01,1093.28 827.29,1094.16 827.76,1094.95 828.39,1095.62 829.16,1096.13 830.02,1096.45 830.94,1096.58 831.85,1096.50 832.73,1096.21 833.52,1095.74zM843.05,1083.70 843.60,1082.93 844.06,1082.13 844.32,1081.25 844.37,1080.33 844.22,1079.42 843.87,1078.57 843.34,1077.81 842.66,1077.20 841.85,1076.75 840.97,1076.49 840.05,1076.43 839.14,1076.58 838.29,1076.93 837.54,1077.46 836.93,1078.15 836.38,1078.93 835.92,1079.72 835.66,1080.61 835.60,1081.53 835.75,1082.43 836.10,1083.29 836.63,1084.04 837.32,1084.66 838.12,1085.11 839.01,1085.36 839.93,1085.42 840.83,1085.27 841.69,1084.92 842.44,1084.39zM851.08,1071.79 851.59,1070.99 852.00,1070.16 852.20,1069.27 852.21,1068.35 852.00,1067.45 851.60,1066.62 851.03,1065.90 850.31,1065.32 849.48,1064.92 848.58,1064.72 847.66,1064.72 846.76,1064.92 845.93,1065.32 845.21,1065.89 844.65,1066.62 844.14,1067.42 843.73,1068.24 843.52,1069.14 843.52,1070.06 843.73,1070.96 844.13,1071.79 844.70,1072.51 845.42,1073.09 846.25,1073.49 847.15,1073.69 848.07,1073.69 848.97,1073.49 849.80,1073.09 850.52,1072.52zM858.43,1059.50 858.89,1058.67 859.26,1057.83 859.42,1056.93 859.38,1056.01 859.13,1055.12 858.69,1054.31 858.08,1053.62 857.34,1053.08 856.49,1052.72 855.58,1052.56 854.66,1052.60 853.77,1052.85 852.96,1053.29 852.27,1053.90 851.75,1054.65 851.28,1055.48 850.91,1056.32 850.75,1057.23 850.79,1058.15 851.04,1059.04 851.48,1059.85 852.09,1060.54 852.84,1061.08 853.69,1061.44 854.59,1061.60 855.51,1061.55 856.40,1061.30 857.21,1060.86 857.90,1060.26zM865.19,1046.94 865.62,1046.09 865.96,1045.23 866.08,1044.32 866.00,1043.40 865.72,1042.53 865.24,1041.74 864.61,1041.07 863.84,1040.56 862.98,1040.24 862.07,1040.11 861.15,1040.19 860.27,1040.48 859.48,1040.95 858.82,1041.58 858.32,1042.36 857.89,1043.20 857.55,1044.06 857.43,1044.97 857.51,1045.89 857.79,1046.77 858.26,1047.56 858.90,1048.22 859.67,1048.73 860.53,1049.06 861.44,1049.18 862.36,1049.10 863.23,1048.82 864.03,1048.35 864.69,1047.71zM871.48,1034.19 871.88,1033.33 872.20,1032.47 872.30,1031.55 872.19,1030.64 871.88,1029.77 871.39,1028.99 870.73,1028.34 869.95,1027.86 869.08,1027.56 868.17,1027.46 867.25,1027.56 866.38,1027.87 865.61,1028.36 864.96,1029.02 864.48,1029.81 864.07,1030.66 863.76,1031.53 863.66,1032.44 863.77,1033.36 864.08,1034.23 864.57,1035.00 865.22,1035.65 866.01,1036.14 866.88,1036.44 867.79,1036.54 868.71,1036.43 869.57,1036.12 870.35,1035.63 871.00,1034.98zM877.49,1021.40 877.89,1020.54 878.19,1019.67 878.28,1018.75 878.16,1017.84 877.85,1016.97 877.35,1016.20 876.68,1015.56 875.90,1015.08 875.02,1014.79 874.11,1014.70 873.19,1014.82 872.33,1015.13 871.56,1015.63 870.91,1016.29 870.45,1017.09 870.05,1017.95 869.74,1018.82 869.65,1019.73 869.77,1020.65 870.09,1021.51 870.59,1022.28 871.25,1022.93 872.04,1023.41 872.91,1023.70 873.83,1023.79 874.74,1023.67 875.60,1023.35 876.38,1022.85 877.02,1022.19zM883.35,1008.48 883.73,1007.61 884.01,1006.74 884.08,1005.82 883.94,1004.91 883.60,1004.05 883.08,1003.29 882.40,1002.67 881.60,1002.21 880.72,1001.94 879.80,1001.87 878.89,1002.01 878.04,1002.35 877.28,1002.87 876.65,1003.54 876.20,1004.35 875.83,1005.22 875.54,1006.09 875.48,1007.01 875.62,1007.92 875.95,1008.78 876.48,1009.54 877.15,1010.16 877.95,1010.62 878.83,1010.89 879.75,1010.96 880.66,1010.82 881.52,1010.48 882.28,1009.96 882.90,1009.29zM888.80,995.37 889.15,994.49 889.41,993.61 889.45,992.69 889.28,991.78 888.92,990.94 888.37,990.19 887.68,989.59 886.87,989.15 885.98,988.91 885.06,988.87 884.15,989.04 883.31,989.40 882.56,989.94 881.96,990.64 881.54,991.45 881.18,992.34 880.93,993.22 880.89,994.14 881.05,995.05 881.42,995.89 881.96,996.64 882.66,997.24 883.47,997.68 884.36,997.92 885.28,997.96 886.18,997.79 887.03,997.43 887.77,996.89 888.38,996.19zM893.94,982.22 894.28,981.34 894.52,980.45 894.55,979.53 894.37,978.62 894.00,977.78 893.45,977.05 892.74,976.45 891.93,976.03 891.03,975.79 890.11,975.77 889.21,975.95 888.37,976.32 887.63,976.87 887.04,977.58 886.62,978.40 886.28,979.28 886.04,980.17 886.01,981.09 886.19,982.00 886.56,982.84 887.12,983.57 887.82,984.17 888.64,984.59 889.53,984.82 890.45,984.85 891.35,984.67 892.19,984.30 892.93,983.75 893.53,983.04zM898.96,969.08 899.30,968.19 899.54,967.31 899.56,966.39 899.38,965.48 899.01,964.64 898.45,963.91 897.75,963.31 896.93,962.89 896.04,962.66 895.12,962.63 894.22,962.81 893.38,963.19 892.64,963.74 892.05,964.45 891.64,965.27 891.30,966.16 891.05,967.04 891.03,967.96 891.21,968.87 891.58,969.71 892.14,970.44 892.84,971.04 893.66,971.46 894.55,971.69 895.47,971.72 896.38,971.54 897.22,971.16 897.95,970.61 898.55,969.90zM903.98,955.96 904.32,955.07 904.56,954.18 904.59,953.26 904.41,952.36 904.03,951.52 903.48,950.78 902.77,950.19 901.96,949.76 901.06,949.53 900.14,949.51 899.24,949.69 898.40,950.06 897.66,950.62 897.07,951.32 896.66,952.14 896.32,953.03 896.08,953.92 896.05,954.84 896.23,955.74 896.61,956.58 897.16,957.32 897.86,957.91 898.68,958.34 899.57,958.57 900.49,958.59 901.40,958.41 902.24,958.04 902.97,957.48 903.57,956.78zM908.95,942.78 909.28,941.89 909.52,941.00 909.53,940.08 909.34,939.18 908.96,938.34 908.40,937.61 907.69,937.02 906.87,936.61 905.97,936.39 905.05,936.37 904.15,936.56 903.31,936.94 902.58,937.50 902.00,938.21 901.59,939.04 901.26,939.93 901.03,940.82 901.01,941.74 901.20,942.64 901.59,943.48 902.15,944.21 902.86,944.80 903.68,945.21 904.57,945.43 905.49,945.45 906.39,945.26 907.23,944.88 907.96,944.31 908.55,943.61zM913.75,929.51 914.07,928.61 914.28,927.72 914.28,926.80 914.08,925.90 913.68,925.07 913.11,924.35 912.39,923.77 911.56,923.37 910.66,923.17 909.74,923.17 908.84,923.37 908.01,923.77 907.29,924.35 906.71,925.07 906.33,925.90 906.01,926.80 905.80,927.69 905.80,928.61 906.00,929.51 906.40,930.34 906.98,931.06 907.70,931.64 908.53,932.04 909.42,932.24 910.34,932.24 911.24,932.04 912.07,931.64 912.79,931.06 913.37,930.34zM918.32,916.19 918.62,915.29 918.83,914.39 918.82,913.47 918.60,912.57 918.19,911.75 917.61,911.04 916.88,910.47 916.05,910.08 915.15,909.89 914.22,909.90 913.33,910.11 912.50,910.52 911.79,911.11 911.23,911.83 910.85,912.67 910.55,913.57 910.34,914.47 910.35,915.39 910.57,916.28 910.97,917.11 911.56,917.82 912.28,918.39 913.12,918.78 914.02,918.97 914.94,918.96 915.84,918.75 916.66,918.34 917.37,917.75 917.94,917.03zM922.77,902.89 923.07,901.99 923.28,901.09 923.27,900.17 923.05,899.28 922.64,898.45 922.06,897.74 921.33,897.17 920.50,896.78 919.60,896.59 918.68,896.60 917.78,896.82 916.96,897.22 916.25,897.81 915.68,898.53 915.30,899.37 915.00,900.27 914.79,901.17 914.80,902.09 915.02,902.99 915.43,903.81 916.01,904.52 916.74,905.09 917.57,905.48 918.47,905.67 919.40,905.66 920.29,905.45 921.12,905.04 921.83,904.45 922.39,903.73zM927.25,889.60 927.55,888.70 927.76,887.80 927.74,886.88 927.53,885.99 927.12,885.16 926.53,884.45 925.80,883.88 924.97,883.50 924.07,883.30 923.15,883.31 922.25,883.53 921.43,883.94 920.72,884.53 920.15,885.25 919.77,886.09 919.47,886.99 919.27,887.89 919.28,888.81 919.50,889.70 919.91,890.53 920.49,891.24 921.22,891.81 922.05,892.20 922.95,892.39 923.87,892.38 924.77,892.16 925.59,891.75 926.31,891.17 926.87,890.44zM931.64,876.22 931.93,875.32 932.12,874.42 932.09,873.50 931.86,872.61 931.44,871.79 930.84,871.08 930.10,870.53 929.26,870.16 928.36,869.98 927.44,870.01 926.55,870.24 925.73,870.66 925.03,871.26 924.47,871.99 924.11,872.84 923.82,873.74 923.63,874.64 923.66,875.56 923.89,876.46 924.32,877.27 924.91,877.98 925.65,878.53 926.49,878.90 927.39,879.08 928.31,879.06 929.20,878.82 930.02,878.40 930.73,877.80 931.28,877.07zM935.78,862.75 936.05,861.83 936.22,860.93 936.17,860.01 935.92,859.13 935.48,858.32 934.87,857.63 934.12,857.09 933.27,856.74 932.36,856.58 931.44,856.63 930.56,856.88 929.75,857.32 929.06,857.93 928.52,858.68 928.18,859.53 927.91,860.45 927.74,861.35 927.79,862.27 928.04,863.16 928.48,863.96 929.10,864.65 929.84,865.19 930.69,865.54 931.60,865.70 932.52,865.65 933.41,865.40 934.22,864.96 934.90,864.35 935.44,863.60zM939.72,849.42 940.01,848.52 940.20,847.62 940.18,846.70 939.95,845.80 939.53,844.99 938.94,844.28 938.20,843.73 937.36,843.35 936.46,843.17 935.54,843.19 934.64,843.42 933.83,843.84 933.12,844.43 932.57,845.17 932.20,846.01 931.91,846.92 931.72,847.82 931.74,848.74 931.97,849.63 932.39,850.45 932.98,851.15 933.72,851.71 934.56,852.09 935.46,852.27 936.38,852.24 937.28,852.01 938.09,851.59 938.80,851.00 939.35,850.27zM944.13,836.17 944.43,835.27 944.63,834.37 944.61,833.45 944.39,832.55 943.97,831.73 943.38,831.02 942.65,830.46 941.81,830.08 940.91,829.89 939.99,829.91 939.10,830.14 938.27,830.55 937.57,831.14 937.01,831.87 936.64,832.71 936.34,833.62 936.14,834.51 936.16,835.43 936.38,836.33 936.80,837.15 937.39,837.86 938.12,838.42 938.95,838.80 939.86,838.99 940.78,838.97 941.67,838.75 942.49,838.33 943.20,837.74 943.76,837.01zM948.30,822.73 948.58,821.82 948.76,820.92 948.73,820.00 948.48,819.11 948.05,818.30 947.45,817.60 946.71,817.06 945.86,816.69 944.96,816.52 944.04,816.56 943.15,816.80 942.33,817.23 941.64,817.83 941.09,818.58 940.74,819.43 940.46,820.33 940.28,821.24 940.32,822.16 940.56,823.05 940.99,823.86 941.59,824.56 942.34,825.10 943.18,825.47 944.09,825.64 945.01,825.60 945.89,825.36 946.71,824.93 947.40,824.32 947.95,823.58zM952.47,809.42 952.76,808.52 952.95,807.62 952.92,806.70 952.69,805.81 952.26,804.99 951.67,804.29 950.93,803.74 950.09,803.36 949.18,803.18 948.26,803.21 947.37,803.44 946.55,803.87 945.85,804.46 945.30,805.20 944.94,806.05 944.65,806.95 944.46,807.85 944.49,808.77 944.72,809.66 945.15,810.48 945.74,811.18 946.48,811.74 947.32,812.11 948.22,812.29 949.14,812.26 950.03,812.03 950.85,811.60 951.55,811.01 952.11,810.27zM956.65,796.03 956.92,795.12 957.10,794.22 957.06,793.30 956.82,792.41 956.38,791.60 955.78,790.90 955.03,790.36 954.18,790.00 953.28,789.83 952.36,789.87 951.47,790.12 950.66,790.55 949.96,791.16 949.42,791.90 949.07,792.75 948.80,793.66 948.62,794.56 948.66,795.48 948.90,796.37 949.34,797.18 949.95,797.88 950.69,798.42 951.54,798.78 952.44,798.95 953.36,798.91 954.25,798.66 955.06,798.23 955.76,797.62 956.30,796.88zM960.57,782.51 960.82,781.60 960.98,780.69 960.92,779.77 960.65,778.89 960.20,778.09 959.57,777.41 958.82,776.89 957.96,776.54 957.05,776.40 956.13,776.46 955.25,776.73 954.45,777.18 953.77,777.81 953.25,778.56 952.92,779.42 952.67,780.34 952.51,781.25 952.57,782.16 952.84,783.05 953.29,783.85 953.92,784.53 954.67,785.05 955.53,785.39 956.44,785.54 957.36,785.47 958.24,785.21 959.04,784.75 959.72,784.13 960.24,783.37zM964.26,769.10 964.52,768.18 964.69,767.28 964.64,766.36 964.39,765.47 963.94,764.67 963.33,763.98 962.58,763.45 961.73,763.09 960.82,762.94 959.90,762.99 959.01,763.24 958.21,763.69 957.52,764.30 956.99,765.05 956.65,765.91 956.38,766.82 956.21,767.72 956.27,768.64 956.52,769.53 956.97,770.34 957.58,771.02 958.33,771.56 959.18,771.91 960.09,772.06 961.01,772.01 961.89,771.76 962.70,771.31 963.39,770.70 963.92,769.95zM968.38,755.87 968.67,754.96 968.86,754.06 968.83,753.14 968.60,752.25 968.18,751.43 967.58,750.73 966.84,750.18 966.00,749.80 965.10,749.62 964.18,749.65 963.29,749.88 962.47,750.30 961.77,750.90 961.21,751.64 960.85,752.48 960.56,753.39 960.37,754.29 960.40,755.21 960.63,756.10 961.06,756.92 961.65,757.62 962.39,758.17 963.23,758.55 964.13,758.73 965.05,758.70 965.95,758.47 966.76,758.04 967.47,757.45 968.02,756.71zM972.46,742.43 972.73,741.52 972.90,740.61 972.85,739.69 972.60,738.81 972.16,738.00 971.55,737.31 970.81,736.77 969.96,736.41 969.05,736.25 968.13,736.30 967.24,736.55 966.44,736.99 965.75,737.60 965.21,738.35 964.86,739.20 964.59,740.11 964.42,741.01 964.47,741.93 964.72,742.82 965.16,743.63 965.77,744.32 966.52,744.86 967.37,745.21 968.27,745.37 969.19,745.33 970.08,745.08 970.89,744.64 971.58,744.03 972.12,743.28zM976.35,728.99 976.61,728.08 976.77,727.18 976.72,726.26 976.47,725.37 976.02,724.57 975.40,723.88 974.65,723.35 973.80,723.00 972.89,722.84 971.97,722.90 971.09,723.15 970.28,723.60 969.60,724.22 969.07,724.97 968.73,725.82 968.46,726.74 968.30,727.64 968.35,728.56 968.61,729.44 969.05,730.25 969.67,730.94 970.42,731.47 971.27,731.82 972.18,731.97 973.10,731.92 973.99,731.66 974.79,731.22 975.48,730.60 976.01,729.85zM980.20,715.60 980.46,714.69 980.63,713.78 980.58,712.86 980.33,711.98 979.88,711.17 979.27,710.48 978.52,709.95 977.67,709.59 976.76,709.44 975.84,709.49 974.96,709.74 974.15,710.19 973.46,710.80 972.93,711.55 972.59,712.40 972.32,713.32 972.15,714.22 972.20,715.14 972.46,716.03 972.90,716.83 973.51,717.52 974.26,718.05 975.11,718.41 976.02,718.56 976.94,718.51 977.83,718.26 978.63,717.82 979.32,717.20 979.86,716.45zM984.11,702.23 984.38,701.32 984.55,700.42 984.51,699.50 984.26,698.61 983.82,697.80 983.21,697.11 982.46,696.57 981.61,696.22 980.70,696.06 979.78,696.10 978.90,696.35 978.09,696.79 977.40,697.40 976.86,698.15 976.51,699.00 976.25,699.91 976.07,700.82 976.12,701.74 976.37,702.62 976.81,703.43 977.42,704.12 978.17,704.66 979.02,705.02 979.92,705.18 980.84,705.13 981.73,704.88 982.54,704.44 983.23,703.83 983.77,703.08zM988.05,688.84 988.31,687.93 988.48,687.03 988.43,686.11 988.18,685.22 987.74,684.42 987.13,683.73 986.38,683.19 985.53,682.84 984.62,682.68 983.70,682.73 982.81,682.98 982.01,683.42 981.32,684.03 980.78,684.78 980.44,685.64 980.17,686.55 980.00,687.45 980.05,688.37 980.30,689.26 980.75,690.07 981.36,690.75 982.11,691.29 982.96,691.64 983.86,691.80 984.78,691.75 985.67,691.50 986.48,691.06 987.17,690.45 987.70,689.70zM991.91,675.41 992.17,674.50 992.33,673.59 992.27,672.67 992.01,671.79 991.56,670.99 990.94,670.30 990.19,669.78 989.34,669.43 988.43,669.28 987.51,669.34 986.63,669.60 985.82,670.05 985.14,670.66 984.61,671.42 984.28,672.28 984.02,673.19 983.86,674.09 983.91,675.01 984.17,675.90 984.62,676.70 985.24,677.38 986.00,677.91 986.85,678.26 987.76,678.41 988.68,678.35 989.56,678.09 990.36,677.64 991.05,677.02 991.58,676.27zM995.67,662.01 995.93,661.10 996.10,660.19 996.04,659.27 995.79,658.39 995.34,657.58 994.72,656.90 993.97,656.37 993.12,656.02 992.21,655.86 991.29,655.92 990.41,656.18 989.60,656.62 988.92,657.24 988.39,657.99 988.05,658.85 987.79,659.76 987.62,660.67 987.68,661.59 987.94,662.47 988.38,663.27 989.00,663.96 989.75,664.49 990.60,664.84 991.51,664.99 992.43,664.94 993.32,664.68 994.12,664.23 994.81,663.62 995.34,662.86zM999.59,648.77 999.88,647.86 1000.07,646.96 1000.04,646.04 999.81,645.15 999.39,644.33 998.79,643.63 998.05,643.07 997.21,642.70 996.31,642.52 995.39,642.55 994.50,642.78 993.68,643.20 992.98,643.80 992.42,644.53 992.06,645.38 991.77,646.28 991.58,647.18 991.61,648.11 991.84,649.00 992.26,649.81 992.86,650.52 993.60,651.07 994.44,651.45 995.34,651.62 996.26,651.60 997.15,651.37 997.97,650.94 998.67,650.35 999.23,649.61zM1003.81,635.37 1004.07,634.45 1004.23,633.55 1004.18,632.63 1003.92,631.75 1003.48,630.94 1002.86,630.25 1002.11,629.72 1001.26,629.37 1000.35,629.22 999.43,629.27 998.55,629.53 997.74,629.98 997.05,630.59 996.52,631.35 996.18,632.20 995.92,633.11 995.76,634.02 995.81,634.94 996.07,635.82 996.52,636.63 997.13,637.31 997.88,637.84 998.74,638.20 999.64,638.35 1000.56,638.29 1001.45,638.04 1002.25,637.59 1002.94,636.97 1003.47,636.22zM1007.43,621.79 1007.66,620.87 1007.80,619.96 1007.72,619.04 1007.43,618.17 1006.96,617.38 1006.33,616.71 1005.56,616.20 1004.70,615.88 1003.78,615.75 1002.87,615.84 1001.99,616.12 1001.20,616.59 1000.53,617.23 1000.02,618.00 999.71,618.86 999.48,619.78 999.34,620.69 999.43,621.61 999.71,622.48 1000.18,623.28 1000.82,623.94 1001.59,624.45 1002.45,624.77 1003.36,624.90 1004.28,624.82 1005.15,624.53 1005.94,624.06 1006.61,623.42 1007.12,622.66zM1010.83,608.34 1011.08,607.42 1011.22,606.51 1011.15,605.59 1010.88,604.72 1010.42,603.92 1009.79,603.25 1009.03,602.73 1008.17,602.39 1007.26,602.26 1006.34,602.33 1005.46,602.61 1004.66,603.07 1003.99,603.70 1003.47,604.46 1003.15,605.32 1002.91,606.24 1002.76,607.15 1002.83,608.06 1003.11,608.94 1003.57,609.74 1004.20,610.41 1004.96,610.93 1005.82,611.26 1006.73,611.40 1007.65,611.33 1008.53,611.05 1009.32,610.59 1010.00,609.96 1010.51,609.20zM1014.57,595.14 1014.86,594.23 1015.05,593.34 1015.03,592.41 1014.80,591.52 1014.37,590.70 1013.78,590.00 1013.04,589.45 1012.20,589.07 1011.30,588.89 1010.38,588.92 1009.49,589.15 1008.67,589.57 1007.96,590.17 1007.41,590.91 1007.05,591.75 1006.76,592.66 1006.57,593.55 1006.60,594.48 1006.83,595.37 1007.25,596.19 1007.84,596.89 1008.58,597.44 1009.42,597.82 1010.32,598.00 1011.25,597.97 1012.14,597.74 1012.95,597.32 1013.66,596.72 1014.21,595.98zM1018.87,581.80 1019.13,580.89 1019.30,579.98 1019.25,579.06 1019.00,578.18 1018.56,577.37 1017.95,576.68 1017.20,576.14 1016.35,575.79 1015.44,575.63 1014.52,575.68 1013.64,575.93 1012.83,576.38 1012.14,576.99 1011.60,577.74 1011.26,578.59 1011.00,579.50 1010.83,580.41 1010.87,581.33 1011.13,582.21 1011.57,583.02 1012.18,583.71 1012.93,584.24 1013.78,584.60 1014.69,584.76 1015.61,584.71 1016.49,584.45 1017.30,584.01 1017.99,583.40 1018.52,582.65zM1022.59,568.32 1022.84,567.40 1023.00,566.50 1022.93,565.58 1022.67,564.70 1022.21,563.90 1021.59,563.22 1020.83,562.70 1019.97,562.35 1019.06,562.21 1018.14,562.28 1017.26,562.54 1016.46,563.00 1015.78,563.62 1015.26,564.38 1014.93,565.24 1014.68,566.15 1014.53,567.06 1014.59,567.98 1014.86,568.86 1015.31,569.66 1015.93,570.34 1016.69,570.86 1017.55,571.20 1018.46,571.35 1019.38,571.28 1020.26,571.02 1021.06,570.56 1021.74,569.94 1022.26,569.18zM1026.41,555.04 1026.68,554.13 1026.85,553.23 1026.81,552.31 1026.56,551.42 1026.13,550.61 1025.52,549.92 1024.77,549.38 1023.93,549.01 1023.02,548.85 1022.10,548.89 1021.21,549.14 1020.40,549.58 1019.71,550.18 1019.17,550.93 1018.82,551.78 1018.55,552.69 1018.37,553.59 1018.42,554.51 1018.66,555.40 1019.10,556.21 1019.71,556.90 1020.45,557.45 1021.30,557.81 1022.21,557.97 1023.13,557.93 1024.01,557.68 1024.82,557.24 1025.52,556.64 1026.06,555.89zM1030.44,541.74 1030.72,540.83 1030.90,539.93 1030.86,539.01 1030.61,538.12 1030.18,537.31 1029.57,536.61 1028.83,536.07 1027.98,535.71 1027.08,535.54 1026.16,535.58 1025.27,535.82 1024.46,536.26 1023.76,536.86 1023.22,537.61 1022.87,538.46 1022.59,539.37 1022.41,540.27 1022.45,541.19 1022.70,542.08 1023.13,542.89 1023.74,543.58 1024.48,544.13 1025.33,544.49 1026.23,544.66 1027.15,544.62 1028.04,544.37 1028.85,543.94 1029.55,543.33 1030.09,542.59zM1034.35,528.30 1034.61,527.38 1034.77,526.48 1034.71,525.56 1034.44,524.67 1033.99,523.87 1033.37,523.19 1032.61,522.67 1031.76,522.32 1030.85,522.17 1029.93,522.23 1029.05,522.50 1028.25,522.95 1027.57,523.57 1027.04,524.33 1026.71,525.18 1026.45,526.10 1026.30,527.01 1026.36,527.92 1026.62,528.81 1027.07,529.61 1027.69,530.29 1028.45,530.82 1029.30,531.16 1030.21,531.31 1031.13,531.25 1032.01,530.98 1032.81,530.53 1033.50,529.91 1034.02,529.15zM1037.95,514.81 1038.20,513.89 1038.34,512.98 1038.27,512.06 1037.99,511.18 1037.53,510.39 1036.90,509.71 1036.14,509.20 1035.28,508.86 1034.37,508.73 1033.45,508.80 1032.57,509.08 1031.78,509.54 1031.10,510.17 1030.59,510.93 1030.27,511.80 1030.02,512.71 1029.88,513.62 1029.95,514.54 1030.23,515.42 1030.69,516.22 1031.32,516.89 1032.08,517.40 1032.94,517.74 1033.85,517.87 1034.77,517.80 1035.65,517.52 1036.44,517.06 1037.12,516.43 1037.63,515.67zM1041.59,501.52 1041.86,500.60 1042.03,499.70 1041.99,498.78 1041.74,497.89 1041.30,497.08 1040.70,496.39 1039.95,495.85 1039.10,495.49 1038.19,495.33 1037.27,495.38 1036.39,495.62 1035.58,496.06 1034.89,496.67 1034.35,497.42 1034.00,498.27 1033.73,499.18 1033.55,500.08 1033.60,501.00 1033.85,501.89 1034.28,502.70 1034.89,503.39 1035.64,503.93 1036.49,504.29 1037.39,504.45 1038.31,504.41 1039.20,504.16 1040.01,503.72 1040.70,503.11 1041.24,502.37zM1045.72,488.27 1046.00,487.37 1046.18,486.46 1046.14,485.54 1045.90,484.65 1045.47,483.84 1044.87,483.14 1044.13,482.60 1043.28,482.23 1042.38,482.06 1041.46,482.10 1040.57,482.34 1039.75,482.77 1039.06,483.37 1038.51,484.12 1038.16,484.96 1037.88,485.87 1037.70,486.77 1037.73,487.69 1037.97,488.58 1038.40,489.40 1039.01,490.09 1039.75,490.64 1040.59,491.01 1041.50,491.18 1042.42,491.14 1043.31,490.90 1044.12,490.47 1044.82,489.86 1045.36,489.12zM1049.67,474.85 1049.93,473.93 1050.09,473.03 1050.03,472.11 1049.77,471.23 1049.32,470.42 1048.71,469.74 1047.95,469.21 1047.10,468.86 1046.19,468.71 1045.27,468.77 1044.39,469.03 1043.58,469.48 1042.90,470.10 1042.37,470.85 1042.03,471.71 1041.78,472.62 1041.61,473.52 1041.67,474.44 1041.93,475.33 1042.38,476.13 1043.00,476.82 1043.75,477.34 1044.60,477.69 1045.51,477.84 1046.43,477.79 1047.32,477.53 1048.12,477.08 1048.80,476.46 1049.33,475.71zM1053.45,461.48 1053.71,460.57 1053.87,459.67 1053.82,458.75 1053.56,457.86 1053.12,457.06 1052.50,456.37 1051.75,455.84 1050.90,455.49 1049.99,455.34 1049.07,455.39 1048.19,455.65 1047.38,456.09 1046.69,456.71 1046.16,457.46 1045.83,458.32 1045.56,459.23 1045.40,460.13 1045.45,461.05 1045.71,461.94 1046.16,462.74 1046.77,463.43 1047.52,463.96 1048.38,464.31 1049.28,464.46 1050.20,464.41 1051.09,464.15 1051.89,463.71 1052.58,463.09 1053.11,462.34zM1057.37,448.21 1057.65,447.31 1057.83,446.40 1057.79,445.48 1057.54,444.59 1057.11,443.78 1056.51,443.09 1055.76,442.54 1054.92,442.18 1054.01,442.01 1053.09,442.05 1052.20,442.29 1051.39,442.73 1050.70,443.33 1050.15,444.07 1049.80,444.92 1049.52,445.83 1049.34,446.74 1049.38,447.66 1049.63,448.54 1050.06,449.36 1050.66,450.05 1051.41,450.60 1052.25,450.96 1053.16,451.13 1054.08,451.09 1054.97,450.85 1055.78,450.41 1056.47,449.81 1057.02,449.06zM1061.49,435.00 1061.78,434.09 1061.97,433.19 1061.95,432.27 1061.72,431.38 1061.30,430.56 1060.70,429.86 1059.97,429.31 1059.13,428.93 1058.22,428.75 1057.30,428.78 1056.41,429.01 1055.59,429.43 1054.89,430.02 1054.33,430.76 1053.97,431.60 1053.68,432.51 1053.49,433.41 1053.51,434.33 1053.74,435.22 1054.17,436.04 1054.76,436.74 1055.50,437.30 1056.34,437.67 1057.24,437.85 1058.16,437.83 1059.05,437.60 1059.87,437.17 1060.57,436.58 1061.13,435.84zM1065.65,421.58 1065.90,420.66 1066.06,419.75 1066.00,418.84 1065.74,417.95 1065.29,417.15 1064.67,416.47 1063.91,415.94 1063.06,415.60 1062.15,415.45 1061.23,415.51 1060.35,415.77 1059.55,416.23 1058.86,416.85 1058.34,417.60 1058.01,418.46 1057.75,419.37 1057.59,420.28 1057.65,421.20 1057.91,422.08 1058.37,422.88 1058.99,423.56 1059.74,424.09 1060.59,424.44 1061.50,424.58 1062.42,424.52 1063.31,424.26 1064.11,423.81 1064.79,423.19 1065.32,422.43zM1069.25,408.10 1069.50,407.19 1069.65,406.28 1069.58,405.36 1069.31,404.48 1068.85,403.68 1068.22,403.01 1067.46,402.49 1066.60,402.15 1065.69,402.02 1064.77,402.09 1063.89,402.36 1063.09,402.82 1062.42,403.45 1061.90,404.21 1061.58,405.07 1061.33,405.99 1061.18,406.90 1061.25,407.81 1061.52,408.69 1061.99,409.49 1062.61,410.17 1063.37,410.68 1064.23,411.02 1065.14,411.16 1066.06,411.09 1066.94,410.81 1067.74,410.35 1068.41,409.73 1068.93,408.97zM1073.07,394.93 1073.35,394.03 1073.54,393.13 1073.52,392.21 1073.28,391.32 1072.86,390.50 1072.27,389.80 1071.53,389.24 1070.69,388.87 1069.78,388.69 1068.86,388.72 1067.97,388.95 1067.15,389.37 1066.45,389.97 1065.90,390.70 1065.54,391.55 1065.25,392.45 1065.06,393.35 1065.09,394.28 1065.32,395.17 1065.74,395.98 1066.34,396.69 1067.07,397.24 1067.91,397.61 1068.82,397.79 1069.74,397.77 1070.63,397.53 1071.45,397.11 1072.15,396.52 1072.70,395.78zM1077.37,381.71 1077.66,380.81 1077.85,379.91 1077.82,378.99 1077.59,378.09 1077.16,377.28 1076.57,376.58 1075.83,376.02 1074.99,375.65 1074.09,375.47 1073.16,375.50 1072.27,375.73 1071.46,376.16 1070.75,376.75 1070.20,377.49 1069.84,378.34 1069.56,379.24 1069.37,380.14 1069.39,381.06 1069.63,381.96 1070.05,382.77 1070.65,383.47 1071.39,384.03 1072.23,384.40 1073.13,384.58 1074.05,384.55 1074.94,384.32 1075.76,383.89 1076.46,383.29 1077.01,382.56zM1081.26,368.20 1081.51,367.29 1081.66,366.38 1081.60,365.46 1081.34,364.58 1080.88,363.78 1080.26,363.10 1079.50,362.58 1078.64,362.24 1077.73,362.09 1076.82,362.16 1075.93,362.42 1075.13,362.88 1074.45,363.50 1073.93,364.26 1073.60,365.12 1073.35,366.03 1073.20,366.94 1073.26,367.86 1073.53,368.74 1073.98,369.54 1074.60,370.22 1075.36,370.74 1076.22,371.08 1077.13,371.23 1078.05,371.16 1078.93,370.90 1079.73,370.44 1080.41,369.82 1080.93,369.06zM1084.98,354.90 1085.25,353.99 1085.42,353.08 1085.38,352.16 1085.13,351.28 1084.69,350.47 1084.09,349.78 1083.34,349.24 1082.49,348.88 1081.58,348.72 1080.66,348.76 1079.78,349.01 1078.97,349.45 1078.28,350.05 1077.74,350.80 1077.39,351.65 1077.12,352.56 1076.94,353.47 1076.99,354.39 1077.24,355.27 1077.68,356.08 1078.28,356.77 1079.03,357.31 1079.88,357.67 1080.78,357.83 1081.70,357.79 1082.59,357.54 1083.40,357.10 1084.09,356.50 1084.63,355.75zM1089.12,341.71 1089.40,340.81 1089.60,339.91 1089.57,338.99 1089.34,338.09 1088.92,337.28 1088.32,336.57 1087.59,336.02 1086.75,335.64 1085.84,335.46 1084.92,335.49 1084.03,335.72 1083.21,336.14 1082.51,336.73 1081.96,337.47 1081.59,338.31 1081.30,339.22 1081.11,340.12 1081.14,341.04 1081.37,341.93 1081.79,342.75 1082.38,343.45 1083.12,344.01 1083.96,344.38 1084.86,344.56 1085.78,344.54 1086.68,344.31 1087.49,343.89 1088.20,343.29 1088.75,342.56zM1093.23,328.36 1093.51,327.45 1093.68,326.55 1093.64,325.63 1093.40,324.74 1092.96,323.93 1092.36,323.24 1091.61,322.69 1090.77,322.33 1089.86,322.17 1088.94,322.21 1088.05,322.45 1087.24,322.89 1086.55,323.49 1086.01,324.24 1085.66,325.09 1085.38,326.00 1085.20,326.90 1085.24,327.82 1085.49,328.71 1085.92,329.52 1086.53,330.21 1087.27,330.75 1088.12,331.12 1089.03,331.28 1089.95,331.24 1090.83,331.00 1091.65,330.56 1092.34,329.96 1092.88,329.21zM1097.24,315.06 1097.52,314.15 1097.70,313.25 1097.66,312.33 1097.42,311.44 1096.99,310.63 1096.38,309.93 1095.64,309.39 1094.80,309.02 1093.89,308.86 1092.97,308.89 1092.08,309.13 1091.27,309.57 1090.57,310.17 1090.03,310.91 1089.67,311.76 1089.40,312.67 1089.22,313.57 1089.26,314.49 1089.50,315.38 1089.93,316.20 1090.53,316.89 1091.28,317.44 1092.12,317.80 1093.03,317.97 1093.95,317.93 1094.84,317.69 1095.65,317.26 1096.34,316.65 1096.89,315.91zM1101.37,301.84 1101.66,300.93 1101.85,300.03 1101.83,299.11 1101.60,298.22 1101.17,297.40 1100.58,296.70 1099.84,296.15 1099.00,295.77 1098.10,295.59 1097.18,295.62 1096.29,295.85 1095.47,296.27 1094.76,296.86 1094.21,297.60 1093.85,298.44 1093.56,299.35 1093.37,300.25 1093.39,301.17 1093.62,302.06 1094.04,302.88 1094.64,303.58 1095.37,304.14 1096.21,304.51 1097.12,304.69 1098.04,304.67 1098.93,304.44 1099.75,304.01 1100.45,303.42 1101.01,302.68zM1105.66,288.67 1105.96,287.77 1106.17,286.87 1106.15,285.95 1105.94,285.05 1105.52,284.23 1104.94,283.52 1104.21,282.96 1103.37,282.57 1102.47,282.38 1101.55,282.39 1100.66,282.61 1099.83,283.02 1099.12,283.61 1098.56,284.33 1098.18,285.17 1097.88,286.08 1097.68,286.97 1097.69,287.89 1097.91,288.79 1098.32,289.61 1098.91,290.32 1099.64,290.89 1100.47,291.27 1101.38,291.47 1102.30,291.45 1103.19,291.23 1104.01,290.82 1104.73,290.24 1105.29,289.51zM1110.02,275.37 1110.30,274.46 1110.48,273.56 1110.45,272.64 1110.21,271.75 1109.78,270.94 1109.19,270.24 1108.45,269.69 1107.60,269.32 1106.70,269.15 1105.78,269.18 1104.89,269.42 1104.07,269.84 1103.37,270.44 1102.82,271.18 1102.47,272.03 1102.18,272.94 1102.00,273.84 1102.03,274.76 1102.27,275.65 1102.70,276.46 1103.30,277.16 1104.04,277.71 1104.88,278.08 1105.79,278.25 1106.71,278.22 1107.60,277.99 1108.41,277.56 1109.11,276.96 1109.66,276.22zM1114.00,261.96 1114.27,261.05 1114.44,260.15 1114.39,259.23 1114.13,258.34 1113.69,257.54 1113.08,256.85 1112.33,256.31 1111.48,255.96 1110.57,255.80 1109.65,255.85 1108.76,256.11 1107.96,256.55 1107.27,257.16 1106.73,257.91 1106.39,258.77 1106.13,259.68 1105.96,260.58 1106.01,261.50 1106.26,262.39 1106.71,263.19 1107.32,263.88 1108.07,264.42 1108.92,264.77 1109.83,264.93 1110.74,264.88 1111.63,264.62 1112.44,264.18 1113.13,263.57 1113.66,262.82zM1117.95,248.73 1118.24,247.83 1118.43,246.93 1118.41,246.01 1118.18,245.12 1117.75,244.30 1117.16,243.60 1116.42,243.04 1115.58,242.67 1114.68,242.49 1113.76,242.51 1112.87,242.75 1112.05,243.17 1111.34,243.76 1110.79,244.50 1110.43,245.34 1110.14,246.25 1109.95,247.15 1109.98,248.07 1110.21,248.96 1110.63,249.78 1111.22,250.48 1111.96,251.04 1112.80,251.41 1113.70,251.59 1114.62,251.56 1115.52,251.33 1116.33,250.91 1117.04,250.32 1117.59,249.58zM1122.32,235.60 1122.62,234.70 1122.83,233.81 1122.82,232.88 1122.61,231.99 1122.20,231.16 1121.62,230.45 1120.89,229.88 1120.06,229.49 1119.16,229.30 1118.24,229.31 1117.34,229.52 1116.51,229.93 1115.80,230.51 1115.23,231.24 1114.86,232.08 1114.55,232.98 1114.34,233.87 1114.35,234.79 1114.57,235.69 1114.98,236.51 1115.56,237.23 1116.29,237.80 1117.12,238.19 1118.02,238.38 1118.94,238.37 1119.84,238.16 1120.66,237.75 1121.38,237.17 1121.94,236.44zM1126.68,222.31 1126.97,221.41 1127.16,220.51 1127.13,219.59 1126.90,218.69 1126.48,217.88 1125.89,217.17 1125.15,216.62 1124.31,216.24 1123.41,216.06 1122.49,216.09 1121.59,216.32 1120.78,216.74 1120.07,217.33 1119.52,218.07 1119.15,218.91 1118.86,219.82 1118.67,220.72 1118.70,221.64 1118.93,222.53 1119.35,223.35 1119.94,224.05 1120.68,224.61 1121.52,224.98 1122.42,225.16 1123.34,225.14 1124.24,224.91 1125.05,224.49 1125.76,223.89 1126.31,223.16zM1130.88,209.02 1131.16,208.12 1131.35,207.22 1131.32,206.30 1131.09,205.41 1130.66,204.59 1130.07,203.89 1129.33,203.34 1128.48,202.96 1127.58,202.79 1126.66,202.82 1125.77,203.05 1124.95,203.48 1124.25,204.08 1123.70,204.81 1123.34,205.66 1123.06,206.57 1122.87,207.47 1122.90,208.39 1123.13,209.28 1123.56,210.10 1124.16,210.80 1124.89,211.35 1125.74,211.72 1126.64,211.90 1127.56,211.87 1128.45,211.63 1129.27,211.21 1129.97,210.61 1130.52,209.87zM1135.06,195.76 1135.34,194.85 1135.53,193.95 1135.51,193.03 1135.28,192.14 1134.85,191.32 1134.26,190.62 1133.52,190.07 1132.68,189.69 1131.78,189.51 1130.85,189.54 1129.96,189.77 1129.15,190.20 1128.44,190.79 1127.89,191.53 1127.53,192.37 1127.24,193.28 1127.05,194.18 1127.08,195.10 1127.31,195.99 1127.73,196.81 1128.33,197.51 1129.06,198.06 1129.90,198.44 1130.81,198.62 1131.73,198.59 1132.62,198.36 1133.44,197.93 1134.14,197.34 1134.69,196.60zM1139.32,182.55 1139.61,181.65 1139.81,180.75 1139.80,179.83 1139.58,178.93 1139.16,178.11 1138.57,177.40 1137.84,176.84 1137.01,176.46 1136.10,176.27 1135.18,176.29 1134.29,176.51 1133.47,176.92 1132.76,177.51 1132.20,178.24 1131.83,179.08 1131.53,179.98 1131.33,180.88 1131.34,181.80 1131.57,182.70 1131.98,183.52 1132.57,184.23 1133.30,184.79 1134.14,185.17 1135.04,185.36 1135.96,185.34 1136.85,185.12 1137.67,184.71 1138.38,184.12 1138.94,183.39zM1143.79,169.48 1144.11,168.58 1144.34,167.69 1144.34,166.77 1144.15,165.87 1143.75,165.04 1143.19,164.31 1142.47,163.73 1141.64,163.33 1140.75,163.11 1139.83,163.11 1138.93,163.30 1138.09,163.70 1137.37,164.26 1136.79,164.98 1136.39,165.81 1136.07,166.70 1135.85,167.60 1135.84,168.52 1136.04,169.42 1136.43,170.25 1137.00,170.97 1137.71,171.55 1138.54,171.96 1139.44,172.17 1140.36,172.18 1141.26,171.98 1142.09,171.59 1142.82,171.02 1143.40,170.31zM1148.49,156.27 1148.79,155.37 1148.99,154.47 1148.98,153.55 1148.76,152.65 1148.35,151.83 1147.77,151.12 1147.04,150.55 1146.21,150.17 1145.31,149.97 1144.38,149.99 1143.49,150.20 1142.67,150.61 1141.95,151.20 1141.39,151.93 1141.01,152.77 1140.71,153.67 1140.51,154.56 1140.52,155.48 1140.74,156.38 1141.15,157.20 1141.73,157.92 1142.46,158.48 1143.30,158.87 1144.20,159.06 1145.12,159.05 1146.01,158.83 1146.84,158.42 1147.55,157.84 1148.11,157.11zM1152.75,142.97 1153.04,142.06 1153.24,141.16 1153.22,140.24 1152.99,139.35 1152.57,138.53 1151.98,137.82 1151.25,137.26 1150.41,136.88 1149.51,136.70 1148.59,136.72 1147.70,136.94 1146.88,137.36 1146.17,137.95 1145.61,138.68 1145.24,139.53 1144.95,140.43 1144.75,141.33 1144.77,142.25 1145.00,143.14 1145.41,143.96 1146.00,144.67 1146.74,145.23 1147.58,145.61 1148.48,145.79 1149.40,145.77 1150.29,145.55 1151.11,145.13 1151.82,144.54 1152.38,143.81zM1157.16,129.81 1157.47,128.91 1157.68,128.02 1157.67,127.09 1157.46,126.20 1157.05,125.37 1156.47,124.66 1155.75,124.09 1154.91,123.69 1154.01,123.50 1153.09,123.50 1152.20,123.72 1151.37,124.12 1150.66,124.70 1150.09,125.43 1149.71,126.26 1149.40,127.16 1149.19,128.06 1149.20,128.98 1149.41,129.88 1149.81,130.70 1150.39,131.42 1151.12,131.99 1151.95,132.38 1152.85,132.58 1153.77,132.57 1154.67,132.36 1155.50,131.95 1156.21,131.37 1156.78,130.65zM1161.63,116.59 1161.93,115.69 1162.14,114.80 1162.13,113.88 1161.92,112.98 1161.51,112.15 1160.93,111.44 1160.20,110.87 1159.36,110.48 1158.46,110.29 1157.54,110.30 1156.65,110.52 1155.82,110.92 1155.11,111.51 1154.54,112.23 1154.16,113.07 1153.86,113.97 1153.65,114.87 1153.66,115.79 1153.88,116.68 1154.29,117.51 1154.87,118.22 1155.60,118.79 1156.43,119.18 1157.33,119.37 1158.25,119.36 1159.15,119.15 1159.97,118.74 1160.69,118.16 1161.25,117.43zM1166.11,103.42 1166.42,102.52 1166.63,101.63 1166.63,100.70 1166.42,99.81 1166.02,98.98 1165.44,98.26 1164.72,97.69 1163.89,97.30 1162.99,97.09 1162.07,97.10 1161.17,97.31 1160.34,97.71 1159.62,98.29 1159.05,99.01 1158.67,99.85 1158.36,100.74 1158.15,101.64 1158.15,102.56 1158.36,103.46 1158.76,104.28 1159.34,105.00 1160.06,105.57 1160.89,105.97 1161.79,106.17 1162.71,106.17 1163.61,105.96 1164.44,105.55 1165.16,104.98 1165.73,104.25zM1170.72,90.31 1171.04,89.41 1171.27,88.52 1171.27,87.60 1171.07,86.70 1170.68,85.87 1170.11,85.14 1169.40,84.56 1168.57,84.16 1167.67,83.95 1166.75,83.94 1165.85,84.14 1165.02,84.53 1164.30,85.10 1163.72,85.82 1163.32,86.65 1163.00,87.54 1162.78,88.43 1162.77,89.35 1162.97,90.25 1163.36,91.09 1163.93,91.81 1164.65,92.39 1165.47,92.80 1166.37,93.01 1167.29,93.01 1168.19,92.82 1169.02,92.42 1169.75,91.85 1170.33,91.14zM1175.46,77.20 1175.78,76.31 1176.01,75.42 1176.02,74.50 1175.83,73.60 1175.44,72.77 1174.87,72.04 1174.16,71.46 1173.33,71.05 1172.44,70.83 1171.52,70.82 1170.62,71.01 1169.78,71.40 1169.05,71.97 1168.47,72.68 1168.07,73.51 1167.75,74.40 1167.52,75.29 1167.51,76.21 1167.70,77.11 1168.09,77.95 1168.66,78.68 1169.37,79.26 1170.20,79.67 1171.09,79.88 1172.01,79.90 1172.91,79.70 1173.75,79.31 1174.47,78.75 1175.06,78.03zM1180.22,64.08 1180.55,63.19 1180.77,62.30 1180.78,61.38 1180.59,60.48 1180.20,59.64 1179.63,58.92 1178.92,58.34 1178.09,57.93 1177.20,57.71 1176.28,57.70 1175.38,57.90 1174.54,58.29 1173.82,58.85 1173.23,59.57 1172.84,60.40 1172.51,61.29 1172.29,62.18 1172.28,63.10 1172.47,64.00 1172.86,64.84 1173.43,65.56 1174.14,66.15 1174.97,66.55 1175.87,66.77 1176.79,66.78 1177.69,66.58 1178.52,66.19 1179.25,65.63 1179.83,64.91zM1184.94,50.91 1185.26,50.01 1185.48,49.12 1185.48,48.20 1185.27,47.30 1184.88,46.47 1184.30,45.75 1183.58,45.17 1182.76,44.77 1181.86,44.56 1180.94,44.56 1180.04,44.76 1179.21,45.16 1178.49,45.73 1177.91,46.45 1177.52,47.29 1177.21,48.18 1176.99,49.08 1176.99,50.00 1177.19,50.89 1177.59,51.73 1178.16,52.45 1178.88,53.02 1179.71,53.42 1180.60,53.63 1181.53,53.63 1182.42,53.43 1183.25,53.03 1183.98,52.46 1184.55,51.74zM1189.52,37.67 1189.82,36.77 1190.03,35.88 1190.03,34.96 1189.81,34.06 1189.41,33.23 1188.83,32.52 1188.10,31.95 1187.27,31.56 1186.37,31.36 1185.45,31.36 1184.55,31.58 1183.73,31.98 1183.01,32.56 1182.44,33.29 1182.06,34.12 1181.76,35.02 1181.54,35.92 1181.55,36.84 1181.76,37.73 1182.17,38.56 1182.75,39.28 1183.47,39.85 1184.31,40.24 1185.21,40.44 1186.13,40.43 1187.02,40.22 1187.85,39.81 1188.57,39.23 1189.13,38.51zM1194.04,24.47 1194.35,23.57 1194.56,22.68 1194.55,21.76 1194.34,20.86 1193.94,20.03 1193.36,19.32 1192.64,18.75 1191.80,18.35 1190.90,18.15 1189.98,18.16 1189.09,18.37 1188.26,18.78 1187.54,19.35 1186.97,20.08 1186.59,20.91 1186.28,21.81 1186.07,22.71 1186.08,23.63 1186.29,24.53 1186.69,25.35 1187.27,26.07 1187.99,26.64 1188.83,27.03 1189.73,27.23 1190.65,27.23 1191.54,27.02 1192.37,26.61 1193.09,26.03 1193.66,25.31zM1198.57,11.27 1198.87,10.37 1199.09,9.48 1199.08,8.55 1198.87,7.66 1198.46,6.83 1197.89,6.11 1197.16,5.54 1196.33,5.15 1195.43,4.95 1194.51,4.96 1193.61,5.17 1192.79,5.57 1192.07,6.15 1191.50,6.87 1191.12,7.71 1190.81,8.61 1190.60,9.50 1190.60,10.43 1190.81,11.32 1191.22,12.15 1191.80,12.87 1192.52,13.44 1193.35,13.83 1194.25,14.03 1195.17,14.02 1196.07,13.81 1196.90,13.41 1197.61,12.83 1198.18,12.11zM1203.09,-1.93 1203.40,-2.83 1203.61,-3.73 1203.61,-4.65 1203.40,-5.55 1202.99,-6.37 1202.41,-7.09 1201.69,-7.66 1200.86,-8.05 1199.96,-8.25 1199.04,-8.25 1198.14,-8.04 1197.31,-7.63 1196.60,-7.05 1196.03,-6.33 1195.64,-5.49 1195.34,-4.59 1195.12,-3.70 1195.13,-2.78 1195.34,-1.88 1195.75,-1.05 1196.32,-0.34 1197.05,0.23 1197.88,0.63 1198.78,0.83 1199.70,0.82 1200.60,0.61 1201.42,0.21 1202.14,-0.37 1202.71,-1.10z"/>
<path fill="#808000" d="M261.52,1154.00 267.52,1153.97 273.52,1153.94 279.52,1153.91 285.52,1153.88 291.52,1153.85 297.52,1153.82 298.44,1153.72 299.30,1153.41 300.08,1152.92 300.73,1152.27 301.21,1151.48 301.51,1150.61 301.61,1149.70 301.50,1148.78 301.20,1147.91 300.70,1147.14 300.05,1146.49 299.27,1146.00 298.39,1145.70 297.48,1145.62 291.48,1145.65 285.48,1145.68 279.48,1145.71 273.48,1145.74 267.48,1145.77 261.48,1145.80 260.56,1145.89 259.70,1146.20 258.92,1146.70 258.27,1147.35 257.79,1148.13 257.49,1149.01 257.39,1149.92 257.49,1150.84 257.80,1151.70 258.30,1152.48 258.95,1153.13 259.73,1153.61 260.61,1153.91zM320.02,1153.70 324.82,1153.68 325.73,1153.58 326.60,1153.28 327.38,1152.78 328.03,1152.13 328.51,1151.34 328.81,1150.47 328.91,1149.56 328.80,1148.64 328.50,1147.78 328.00,1147.00 327.35,1146.35 326.56,1145.86 325.69,1145.56 324.78,1145.48 319.98,1145.50 319.06,1145.60 318.20,1145.91 317.42,1146.40 316.77,1147.06 316.28,1147.84 315.98,1148.71 315.89,1149.62 315.99,1150.54 316.30,1151.41 316.80,1152.18 317.45,1152.83 318.23,1153.32 319.10,1153.62zM347.72,1153.56 353.72,1153.53 359.73,1153.50 365.74,1153.45 371.74,1153.39 377.74,1153.34 383.74,1153.28 384.65,1153.19 385.52,1152.87 386.29,1152.38 386.94,1151.72 387.42,1150.93 387.72,1150.06 387.81,1149.15 387.70,1148.23 387.39,1147.37 386.89,1146.59 386.23,1145.95 385.45,1145.46 384.58,1145.17 383.66,1145.08 377.66,1145.14 371.66,1145.19 365.66,1145.25 359.67,1145.30 353.68,1145.33 347.68,1145.36 346.76,1145.46 345.90,1145.77 345.12,1146.26 344.47,1146.91 343.98,1147.70 343.68,1148.57 343.59,1149.48 343.69,1150.40 344.00,1151.27 344.50,1152.04 345.15,1152.69 345.93,1153.18 346.80,1153.48zM406.23,1153.08 411.03,1153.04 411.95,1152.94 412.81,1152.62 413.59,1152.13 414.24,1151.47 414.72,1150.69 415.01,1149.81 415.11,1148.90 415.00,1147.98 414.69,1147.12 414.19,1146.34 413.53,1145.70 412.75,1145.21 411.88,1144.92 410.96,1144.84 406.16,1144.88 405.25,1144.98 404.38,1145.29 403.60,1145.79 402.96,1146.44 402.48,1147.23 402.18,1148.10 402.08,1149.02 402.20,1149.93 402.51,1150.80 403.00,1151.57 403.66,1152.22 404.45,1152.70 405.32,1153.00zM433.93,1152.83 439.93,1152.77 445.93,1152.72 451.93,1152.66 457.93,1152.61 463.93,1152.55 469.93,1152.49 470.85,1152.39 471.72,1152.08 472.49,1151.58 473.13,1150.92 473.62,1150.14 473.91,1149.27 474.01,1148.35 473.89,1147.44 473.58,1146.57 473.08,1145.79 472.43,1145.15 471.64,1144.67 470.77,1144.37 469.85,1144.29 463.85,1144.35 457.86,1144.41 451.86,1144.46 445.86,1144.52 439.86,1144.57 433.86,1144.63 432.94,1144.73 432.08,1145.04 431.30,1145.53 430.66,1146.19 430.17,1146.98 429.88,1147.85 429.78,1148.76 429.89,1149.68 430.21,1150.55 430.70,1151.32 431.36,1151.97 432.14,1152.45 433.02,1152.74zM492.43,1152.27 497.23,1152.22 498.15,1152.12 499.01,1151.81 499.79,1151.31 500.43,1150.65 500.92,1149.87 501.21,1149.00 501.31,1148.08 501.19,1147.17 500.88,1146.30 500.38,1145.52 499.73,1144.88 498.94,1144.40 498.07,1144.10 497.15,1144.02 492.35,1144.07 491.44,1144.17 490.57,1144.48 489.80,1144.98 489.15,1145.64 488.67,1146.42 488.37,1147.29 488.28,1148.21 488.39,1149.12 488.71,1149.99 489.20,1150.76 489.86,1151.41 490.65,1151.89 491.52,1152.19zM520.13,1151.99 526.13,1151.93 532.13,1151.88 538.13,1151.82 544.13,1151.76 550.13,1151.70 556.13,1151.64 557.04,1151.54 557.91,1151.23 558.69,1150.73 559.33,1150.07 559.81,1149.29 560.11,1148.41 560.20,1147.50 560.09,1146.58 559.78,1145.72 559.28,1144.94 558.62,1144.30 557.84,1143.82 556.97,1143.52 556.05,1143.44 550.05,1143.50 544.05,1143.56 538.05,1143.62 532.05,1143.68 526.05,1143.74 520.05,1143.79 519.14,1143.89 518.27,1144.21 517.50,1144.70 516.85,1145.36 516.37,1146.15 516.07,1147.02 515.98,1147.93 516.09,1148.85 516.40,1149.72 516.90,1150.49 517.56,1151.14 518.34,1151.62 519.22,1151.91zM578.65,1151.32 583.45,1151.25 584.36,1151.14 585.23,1150.83 586.00,1150.32 586.64,1149.66 587.12,1148.88 587.41,1148.00 587.50,1147.08 587.38,1146.17 587.07,1145.31 586.56,1144.53 585.90,1143.89 585.12,1143.41 584.24,1143.12 583.33,1143.05 578.53,1143.12 577.61,1143.22 576.75,1143.54 575.97,1144.04 575.33,1144.70 574.86,1145.49 574.56,1146.36 574.48,1147.28 574.59,1148.19 574.91,1149.06 575.41,1149.83 576.07,1150.47 576.86,1150.95 577.73,1151.24zM606.35,1150.90 612.35,1150.81 618.34,1150.72 624.34,1150.63 630.34,1150.54 636.34,1150.45 642.34,1150.36 643.26,1150.25 644.12,1149.94 644.89,1149.43 645.53,1148.77 646.01,1147.99 646.30,1147.11 646.39,1146.20 646.28,1145.28 645.96,1144.42 645.46,1143.64 644.80,1143.00 644.01,1142.53 643.13,1142.23 642.22,1142.16 636.22,1142.25 630.22,1142.34 624.22,1142.43 618.22,1142.52 612.22,1142.61 606.22,1142.70 605.31,1142.81 604.44,1143.12 603.67,1143.62 603.03,1144.29 602.55,1145.07 602.26,1145.95 602.17,1146.86 602.29,1147.78 602.61,1148.64 603.11,1149.41 603.77,1150.05 604.56,1150.53 605.43,1150.82zM665.00,1149.63 669.80,1149.35 670.70,1149.20 671.55,1148.85 672.30,1148.31 672.92,1147.63 673.36,1146.82 673.61,1145.93 673.66,1145.01 673.50,1144.10 673.15,1143.26 672.62,1142.51 671.93,1141.89 671.12,1141.45 670.23,1141.20 669.31,1141.16 664.52,1141.44 663.61,1141.59 662.76,1141.94 662.02,1142.48 661.40,1143.16 660.96,1143.97 660.71,1144.86 660.66,1145.78 660.81,1146.68 661.17,1147.53 661.70,1148.28 662.39,1148.90 663.20,1149.34 664.09,1149.59zM691.33,1148.08 696.96,1147.48 702.59,1146.88 708.22,1146.28 713.85,1145.68 719.48,1145.08 725.11,1144.48 730.73,1143.88 731.64,1143.69 732.47,1143.30 733.19,1142.73 733.77,1142.01 734.17,1141.18 734.38,1140.29 734.39,1139.36 734.19,1138.46 733.80,1137.63 733.23,1136.91 732.51,1136.33 731.68,1135.93 730.79,1135.72 729.87,1135.72 724.24,1136.32 718.61,1136.92 712.98,1137.52 707.35,1138.12 701.72,1138.72 696.09,1139.32 690.47,1139.92 689.56,1140.11 688.73,1140.50 688.01,1141.07 687.43,1141.79 687.03,1142.62 686.82,1143.51 686.81,1144.44 687.01,1145.34 687.40,1146.17 687.97,1146.89 688.69,1147.47 689.52,1147.87 690.41,1148.08zM751.19,1138.16 755.64,1136.41 756.45,1135.99 757.15,1135.39 757.70,1134.65 758.06,1133.81 758.23,1132.90 758.20,1131.98 757.96,1131.09 757.53,1130.28 756.93,1129.58 756.18,1129.03 755.34,1128.67 754.43,1128.50 753.51,1128.53 752.63,1128.78 748.19,1130.54 747.37,1130.95 746.67,1131.56 746.12,1132.30 745.76,1133.14 745.59,1134.05 745.62,1134.97 745.86,1135.86 746.29,1136.67 746.90,1137.37 747.64,1137.91 748.48,1138.28 749.39,1138.45 750.31,1138.42zM776.51,1125.08 779.64,1120.39 782.77,1115.71 785.90,1111.02 789.02,1106.33 792.15,1101.65 795.28,1096.96 798.41,1092.28 798.84,1091.47 799.07,1090.57 799.10,1089.65 798.92,1088.75 798.54,1087.91 797.99,1087.17 797.28,1086.58 796.47,1086.16 795.57,1085.93 794.65,1085.90 793.75,1086.08 792.91,1086.46 792.17,1087.01 791.59,1087.72 788.46,1092.41 785.33,1097.09 782.20,1101.78 779.08,1106.47 775.95,1111.15 772.82,1115.84 769.69,1120.52 769.26,1121.33 769.03,1122.23 769.00,1123.15 769.18,1124.05 769.56,1124.89 770.11,1125.63 770.82,1126.22 771.63,1126.64 772.53,1126.87 773.45,1126.90 774.35,1126.72 775.19,1126.34 775.93,1125.79zM804.76,1068.56 805.75,1063.87 805.84,1062.96 805.72,1062.04 805.40,1061.18 804.90,1060.41 804.24,1059.77 803.45,1059.29 802.57,1059.00 801.66,1058.92 800.74,1059.04 799.88,1059.36 799.11,1059.86 798.47,1060.53 797.99,1061.31 797.72,1062.19 796.74,1066.88 796.64,1067.80 796.76,1068.71 797.08,1069.58 797.58,1070.35 798.24,1070.99 799.03,1071.46 799.91,1071.75 800.82,1071.84 801.74,1071.72 802.60,1071.40 803.37,1070.89 804.01,1070.23 804.49,1069.44zM809.39,1041.21 809.78,1036.05 810.17,1030.90 810.57,1025.74 810.96,1020.58 811.35,1015.43 811.75,1010.27 812.14,1005.11 812.12,1004.19 811.88,1003.30 811.45,1002.49 810.85,1001.79 810.11,1001.24 809.27,1000.87 808.36,1000.70 807.44,1000.73 806.55,1000.97 805.74,1001.40 805.04,1002.00 804.49,1002.74 804.12,1003.58 803.96,1004.49 803.57,1009.65 803.18,1014.80 802.78,1019.96 802.39,1025.12 802.00,1030.27 801.60,1035.43 801.21,1040.59 801.23,1041.51 801.47,1042.40 801.90,1043.21 802.50,1043.91 803.24,1044.46 804.08,1044.83 804.99,1045.00 805.91,1044.97 806.80,1044.73 807.61,1044.30 808.31,1043.70 808.86,1042.96 809.23,1042.12zM813.91,982.67 814.12,977.88 814.06,976.96 813.80,976.08 813.34,975.28 812.72,974.60 811.96,974.08 811.11,973.73 810.20,973.59 809.28,973.65 808.40,973.92 807.60,974.38 806.92,975.00 806.39,975.76 806.05,976.61 805.92,977.52 805.71,982.31 805.77,983.23 806.03,984.11 806.49,984.92 807.11,985.59 807.87,986.12 808.72,986.46 809.63,986.60 810.55,986.54 811.43,986.27 812.23,985.82 812.91,985.19 813.44,984.44 813.78,983.58zM814.29,955.00 814.55,949.86 814.81,944.72 815.07,939.58 815.32,934.43 815.58,929.29 815.84,924.15 816.09,919.00 816.05,918.09 815.79,917.20 815.34,916.40 814.72,915.72 813.97,915.19 813.11,914.84 812.21,914.69 811.29,914.75 810.40,915.01 809.60,915.46 808.92,916.08 808.39,916.83 808.04,917.69 807.91,918.60 807.65,923.74 807.39,928.88 807.13,934.02 806.88,939.17 806.62,944.31 806.36,949.45 806.11,954.60 806.15,955.51 806.41,956.40 806.86,957.20 807.48,957.88 808.23,958.41 809.09,958.76 809.99,958.91 810.91,958.85 811.80,958.59 812.60,958.14 813.28,957.52 813.81,956.77 814.16,955.91zM816.46,896.17 816.55,891.37 816.47,890.46 816.18,889.58 815.71,888.79 815.07,888.13 814.30,887.63 813.43,887.31 812.52,887.19 811.60,887.27 810.73,887.56 809.94,888.04 809.28,888.68 808.77,889.45 808.45,890.31 808.35,891.23 808.26,896.03 808.34,896.94 808.62,897.82 809.10,898.61 809.74,899.27 810.51,899.77 811.38,900.09 812.29,900.21 813.21,900.13 814.08,899.84 814.87,899.36 815.53,898.72 816.04,897.95 816.35,897.09zM817.00,868.38 817.12,862.38 817.23,856.38 817.35,850.38 817.47,844.38 817.58,838.39 817.70,832.39 817.63,831.47 817.34,830.59 816.86,829.81 816.23,829.14 815.46,828.64 814.59,828.32 813.68,828.19 812.76,828.28 811.89,828.57 811.10,829.04 810.43,829.68 809.93,830.45 809.61,831.31 809.50,832.23 809.38,838.23 809.27,844.22 809.15,850.22 809.03,856.22 808.92,862.22 808.80,868.22 808.87,869.14 809.16,870.01 809.64,870.80 810.27,871.47 811.04,871.97 811.91,872.29 812.82,872.41 813.74,872.33 814.61,872.04 815.40,871.56 816.07,870.93 816.57,870.16 816.89,869.29zM817.79,809.72 817.81,804.92 817.72,804.01 817.42,803.14 816.93,802.36 816.28,801.70 815.51,801.21 814.64,800.90 813.72,800.79 812.81,800.89 811.94,801.19 811.16,801.68 810.50,802.33 810.01,803.11 809.70,803.98 809.61,804.89 809.59,809.69 809.68,810.61 809.98,811.48 810.46,812.26 811.11,812.91 811.89,813.41 812.76,813.71 813.67,813.82 814.59,813.72 815.46,813.42 816.24,812.93 816.89,812.28 817.39,811.51 817.69,810.64zM817.90,782.06 817.92,776.06 817.94,770.06 817.97,764.06 817.99,758.06 818.01,752.06 818.04,746.06 817.95,745.15 817.65,744.28 817.16,743.50 816.51,742.84 815.74,742.35 814.87,742.04 813.95,741.93 813.04,742.03 812.17,742.33 811.39,742.82 810.73,743.47 810.24,744.25 809.93,745.12 809.84,746.03 809.81,752.03 809.79,758.03 809.77,764.03 809.74,770.03 809.72,776.03 809.70,782.03 809.78,782.95 810.08,783.82 810.57,784.60 811.22,785.25 812.00,785.75 812.87,786.05 813.78,786.16 814.70,786.06 815.57,785.76 816.35,785.27 817.00,784.62 817.50,783.85 817.80,782.98zM818.13,723.46 818.14,718.66 818.06,717.75 817.76,716.88 817.27,716.10 816.62,715.44 815.84,714.95 814.98,714.64 814.06,714.53 813.15,714.63 812.27,714.94 811.49,715.42 810.84,716.07 810.35,716.85 810.04,717.72 809.94,718.63 809.93,723.43 810.01,724.35 810.31,725.22 810.80,726.00 811.45,726.65 812.23,727.15 813.09,727.45 814.01,727.56 814.93,727.46 815.80,727.16 816.58,726.67 817.23,726.02 817.72,725.25 818.03,724.38zM818.23,695.80 818.26,689.80 818.28,683.80 818.30,677.80 818.33,671.80 818.35,665.80 818.37,659.80 818.29,658.89 817.99,658.02 817.50,657.24 816.85,656.58 816.07,656.09 815.21,655.78 814.29,655.68 813.38,655.77 812.50,656.08 811.72,656.56 811.07,657.21 810.58,657.99 810.27,658.86 810.17,659.77 810.15,665.77 810.13,671.77 810.10,677.77 810.08,683.77 810.06,689.77 810.03,695.77 810.12,696.69 810.42,697.56 810.91,698.34 811.56,698.99 812.34,699.49 813.20,699.79 814.12,699.90 815.03,699.80 815.90,699.50 816.69,699.01 817.34,698.36 817.83,697.59 818.14,696.72zM818.46,637.20 818.48,632.40 818.40,631.49 818.09,630.62 817.61,629.84 816.96,629.18 816.18,628.69 815.31,628.38 814.40,628.28 813.48,628.37 812.61,628.68 811.83,629.16 811.18,629.81 810.68,630.59 810.38,631.46 810.28,632.37 810.26,637.17 810.35,638.09 810.65,638.96 811.14,639.74 811.79,640.39 812.56,640.89 813.43,641.19 814.35,641.30 815.26,641.20 816.13,640.90 816.92,640.41 817.57,639.77 818.06,638.99 818.37,638.12zM818.57,609.54 818.59,603.54 818.62,597.54 818.64,591.54 818.67,585.54 818.69,579.54 818.71,573.54 818.63,572.63 818.32,571.76 817.84,570.98 817.19,570.32 816.41,569.83 815.54,569.52 814.63,569.42 813.71,569.52 812.84,569.82 812.06,570.30 811.41,570.95 810.91,571.73 810.61,572.60 810.51,573.51 810.49,579.51 810.47,585.51 810.44,591.51 810.42,597.51 810.40,603.51 810.37,609.51 810.46,610.43 810.76,611.30 811.25,612.08 811.89,612.73 812.67,613.23 813.54,613.53 814.46,613.64 815.37,613.54 816.24,613.24 817.02,612.75 817.68,612.11 818.17,611.33 818.48,610.46zM818.80,550.94 818.82,546.15 818.73,545.23 818.43,544.36 817.95,543.58 817.30,542.92 816.52,542.43 815.65,542.12 814.74,542.02 813.82,542.12 812.95,542.42 812.17,542.90 811.51,543.55 811.02,544.33 810.71,545.20 810.62,546.11 810.60,550.91 810.69,551.83 810.99,552.70 811.48,553.48 812.12,554.13 812.90,554.63 813.77,554.94 814.68,555.04 815.60,554.94 816.47,554.64 817.25,554.15 817.91,553.51 818.40,552.73 818.71,551.86zM818.91,523.29 818.93,517.29 818.96,511.29 818.98,505.29 819.00,499.29 819.03,493.29 819.05,487.29 818.96,486.37 818.66,485.50 818.18,484.72 817.53,484.06 816.75,483.57 815.88,483.26 814.97,483.16 814.05,483.26 813.18,483.56 812.40,484.04 811.75,484.69 811.25,485.47 810.94,486.34 810.85,487.25 810.83,493.25 810.80,499.25 810.78,505.25 810.76,511.25 810.73,517.25 810.71,523.25 810.80,524.17 811.10,525.04 811.58,525.82 812.23,526.47 813.01,526.97 813.88,527.28 814.79,527.38 815.71,527.28 816.58,526.98 817.36,526.49 818.01,525.85 818.51,525.07 818.82,524.20zM819.14,464.69 819.16,459.89 819.07,458.97 818.77,458.10 818.29,457.32 817.64,456.66 816.86,456.17 815.99,455.86 815.08,455.76 814.16,455.86 813.29,456.16 812.51,456.64 811.86,457.29 811.36,458.07 811.05,458.94 810.96,459.85 810.94,464.65 811.03,465.57 811.33,466.44 811.82,467.22 812.46,467.87 813.24,468.37 814.11,468.68 815.02,468.78 815.94,468.68 816.81,468.38 817.59,467.90 818.25,467.25 818.74,466.47 819.05,465.60zM819.25,437.03 819.28,431.03 819.30,425.03 819.32,419.03 819.35,413.03 819.37,407.03 819.40,401.03 819.31,400.11 819.01,399.24 818.52,398.46 817.87,397.80 817.10,397.31 816.23,397.00 815.31,396.90 814.40,397.00 813.53,397.30 812.74,397.78 812.09,398.43 811.60,399.21 811.29,400.08 811.20,400.99 811.17,406.99 811.15,412.99 811.12,418.99 811.10,424.99 811.08,430.99 811.05,436.99 811.14,437.91 811.44,438.78 811.93,439.56 812.57,440.22 813.35,440.71 814.22,441.02 815.14,441.12 816.05,441.02 816.92,440.72 817.70,440.24 818.36,439.59 818.85,438.81 819.16,437.94zM819.49,378.43 819.51,373.63 819.42,372.71 819.12,371.84 818.63,371.06 817.98,370.41 817.20,369.91 816.34,369.60 815.42,369.50 814.51,369.60 813.64,369.90 812.85,370.38 812.20,371.03 811.71,371.81 811.40,372.68 811.31,373.59 811.29,378.39 811.37,379.31 811.67,380.18 812.16,380.96 812.81,381.62 813.59,382.11 814.46,382.42 815.37,382.52 816.29,382.42 817.16,382.12 817.94,381.64 818.59,380.99 819.08,380.21 819.39,379.34zM819.60,350.77 819.62,344.77 819.64,338.77 819.67,332.77 819.69,326.77 819.72,320.77 819.74,314.77 819.65,313.85 819.35,312.98 818.87,312.20 818.22,311.55 817.44,311.05 816.57,310.74 815.66,310.64 814.74,310.74 813.87,311.04 813.09,311.52 812.44,312.17 811.94,312.95 811.63,313.82 811.54,314.73 811.52,320.73 811.49,326.73 811.47,332.73 811.45,338.73 811.42,344.73 811.40,350.73 811.48,351.65 811.78,352.52 812.27,353.30 812.92,353.96 813.70,354.45 814.57,354.76 815.48,354.86 816.40,354.76 817.27,354.46 818.05,353.98 818.70,353.33 819.20,352.55 819.50,351.68zM819.83,292.17 819.85,287.37 819.76,286.45 819.46,285.58 818.98,284.80 818.33,284.15 817.55,283.65 816.68,283.34 815.77,283.24 814.85,283.34 813.98,283.64 813.20,284.13 812.55,284.77 812.05,285.55 811.74,286.42 811.65,287.33 811.63,292.13 811.72,293.05 812.02,293.92 812.51,294.70 813.15,295.36 813.93,295.85 814.80,296.16 815.71,296.26 816.63,296.16 817.50,295.86 818.28,295.38 818.94,294.73 819.43,293.95 819.74,293.08zM819.94,264.51 819.97,258.51 819.99,252.51 820.01,246.51 820.04,240.51 820.06,234.51 820.09,228.51 820.00,227.59 819.70,226.72 819.21,225.94 818.56,225.29 817.79,224.79 816.92,224.49 816.00,224.38 815.09,224.48 814.22,224.78 813.43,225.27 812.78,225.91 812.29,226.69 811.98,227.56 811.89,228.48 811.86,234.48 811.84,240.48 811.81,246.47 811.79,252.47 811.77,258.47 811.74,264.47 811.83,265.39 812.13,266.26 812.62,267.04 813.26,267.70 814.04,268.19 814.91,268.50 815.83,268.60 816.74,268.50 817.61,268.20 818.39,267.72 819.05,267.07 819.54,266.29 819.85,265.42zM820.18,205.91 820.20,201.11 820.11,200.19 819.81,199.32 819.32,198.54 818.67,197.89 817.89,197.39 817.03,197.09 816.11,196.98 815.20,197.08 814.33,197.38 813.54,197.87 812.89,198.51 812.40,199.29 812.09,200.16 812.00,201.08 811.98,205.88 812.06,206.79 812.36,207.66 812.85,208.44 813.50,209.10 814.28,209.59 815.15,209.90 816.06,210.00 816.98,209.91 817.85,209.60 818.63,209.12 819.28,208.47 819.77,207.69 820.08,206.82zM820.29,178.25 820.31,172.25 820.34,166.25 820.36,160.25 820.38,154.25 820.41,148.25 820.43,142.25 820.34,141.33 820.04,140.46 819.56,139.68 818.91,139.03 818.13,138.53 817.26,138.23 816.35,138.12 815.43,138.22 814.56,138.52 813.78,139.01 813.13,139.65 812.63,140.43 812.32,141.30 812.23,142.22 812.21,148.22 812.18,154.22 812.16,160.22 812.14,166.22 812.11,172.22 812.09,178.22 812.17,179.13 812.47,180.00 812.96,180.78 813.61,181.44 814.39,181.93 815.26,182.24 816.17,182.34 817.09,182.25 817.96,181.94 818.74,181.46 819.39,180.81 819.89,180.03 820.19,179.16zM820.52,119.65 820.54,114.85 820.45,113.93 820.15,113.06 819.67,112.28 819.02,111.63 818.24,111.13 817.37,110.83 816.46,110.72 815.54,110.82 814.67,111.12 813.89,111.61 813.24,112.26 812.74,113.03 812.43,113.90 812.34,114.82 812.32,119.62 812.41,120.53 812.71,121.40 813.20,122.18 813.84,122.84 814.62,123.33 815.49,123.64 816.41,123.75 817.32,123.65 818.19,123.35 818.97,122.86 819.63,122.21 820.12,121.43 820.43,120.56zM820.63,91.99 820.66,85.99 820.68,79.99 820.70,73.99 820.73,67.99 820.75,61.99 820.78,55.99 820.69,55.07 820.39,54.20 819.90,53.42 819.25,52.77 818.48,52.27 817.61,51.97 816.69,51.86 815.78,51.96 814.91,52.26 814.12,52.75 813.47,53.40 812.98,54.17 812.67,55.04 812.58,55.96 812.55,61.96 812.53,67.96 812.50,73.96 812.48,79.96 812.46,85.96 812.43,91.96 812.52,92.87 812.82,93.74 813.31,94.52 813.95,95.18 814.73,95.67 815.60,95.98 816.52,96.09 817.43,95.99 818.30,95.69 819.08,95.20 819.74,94.55 820.23,93.77 820.54,92.90zM820.87,33.39 820.89,28.59 820.80,27.67 820.50,26.80 820.01,26.02 819.36,25.37 818.59,24.87 817.72,24.57 816.80,24.46 815.89,24.56 815.02,24.86 814.23,25.35 813.58,26.00 813.09,26.77 812.78,27.64 812.69,28.56 812.67,33.36 812.75,34.27 813.05,35.14 813.54,35.92 814.19,36.58 814.97,37.07 815.84,37.38 816.75,37.49 817.67,37.39 818.54,37.09 819.32,36.60 819.97,35.95 820.46,35.17 820.77,34.30zM820.98,5.73 821.00,0.02 820.91,-0.90 820.61,-1.77 820.13,-2.55 819.48,-3.21 818.70,-3.70 817.83,-4.01 816.92,-4.11 816.00,-4.01 815.13,-3.71 814.35,-3.23 813.69,-2.58 813.20,-1.80 812.89,-0.93 812.80,-0.02 812.78,5.70 812.86,6.61 813.16,7.48 813.65,8.26 814.30,8.92 815.08,9.41 815.95,9.72 816.86,9.83 817.78,9.73 818.65,9.43 819.43,8.94 820.08,8.29 820.58,7.51 820.88,6.64z"/>
</g>
<text class="d" x="211.14" y="1165" xml:space="preserve">0</text>
<text class="d" x="156.75 184.62 211.14" y="1026" xml:space="preserve">500</text>
<text class="d" x="130.89 158.09 184.62 211.14" y="887" xml:space="preserve">1000</text>
<text class="d" x="130.89 156.75 184.62 211.14" y="748" xml:space="preserve">1500</text>
<text class="d" x="131.97 158.09 184.62 211.14" y="609" xml:space="preserve">2000</text>
<text class="d" x="131.97 156.75 184.62 211.14" y="470" xml:space="preserve">2500</text>
<text class="d" x="130.61 158.09 184.62 211.14" y="331" xml:space="preserve">3000</text>
<text class="d" x="130.61 156.75 184.62 211.14" y="192" xml:space="preserve">3500</text>
<text class="d" x="131.01 158.09 184.62 211.14" y="53" xml:space="preserve">4000</text>
<text class="d" x="246.92" y="1214" xml:space="preserve">1</text>
<text class="d" x="445.28" y="1214" xml:space="preserve">2</text>
<text class="d" x="641.19" y="1214" xml:space="preserve">3</text>
<text class="d" x="838.86" y="1214" xml:space="preserve">4</text>
<text class="d" x="1035.35" y="1214" xml:space="preserve">5</text>
<text class="d" x="1233.61" y="1214" xml:space="preserve">6</text>
<text class="d" x="1429.46" y="1214" xml:space="preserve">7</text>
<text class="d" x="1628.53" y="1214" xml:space="preserve">8</text>
<text class="l" y="1318" xml:space="preserve"><tspan x="835.8 872.06 889.04 910.14 938.52 955.09 983.66">Stretch</tspan> <tspan x="1030.47" textLength="35.49" lengthAdjust="spacingAndGlyphs">λ</tspan></text>
<text class="l" transform="translate(70.3,709.46) rotate(-90)" xml:space="preserve"><tspan x="-0.93 35.18 52.07 73.05 101.05 125.43" y="0">Stress</tspan> <tspan x="164.97">s</tspan><tspan class="sl" x="190.95">/</tspan><tspan class="lm" x="203.11" textLength="41.65" lengthAdjust="spacingAndGlyphs">μ</tspan><tspan class="ls" x="244.08" y="-26.4" letter-spacing="0.64">fib</tspan></text>
<path fill="#ff7f00" d="M293.95,107.00 414.10,107.00 415.02,106.91 415.88,106.61 416.66,106.12 417.32,105.46 417.81,104.68 418.11,103.82 418.21,102.90 418.11,101.98 417.81,101.12 417.32,100.34 416.66,99.68 415.88,99.19 415.02,98.89 414.10,98.80 293.95,98.80 293.03,98.89 292.17,99.19 291.39,99.68 290.73,100.34 290.24,101.12 289.94,101.98 289.84,102.90 289.94,103.82 290.24,104.68 290.73,105.46 291.39,106.12 292.17,106.61 293.03,106.91z"/>
<text class="t" xml:space="preserve"><tspan x="426.8" y="121">n</tspan> <tspan class="q" x="465.74" y="126">=</tspan> <tspan class="d" x="507.81" y="121">5</tspan><tspan x="536.83" y="121">,</tspan> <tspan x="560.83" y="121" textLength="35.96" lengthAdjust="spacingAndGlyphs">E</tspan><tspan class="s" x="594.03" y="135" letter-spacing="1.29">fm</tspan><tspan class="sl" x="633.71" y="121">/</tspan><tspan class="p" x="648.6" y="120">(</tspan><tspan x="665.75" y="121">n</tspan><tspan class="m" x="688.42" y="121" textLength="34.65" lengthAdjust="spacingAndGlyphs">μ</tspan><tspan class="s" x="721.78" y="99" letter-spacing="0.17">fib</tspan><tspan class="p" x="761.73" y="120">)</tspan> <tspan class="q" x="791.39" y="126">=</tspan> <tspan class="d" x="833.28 861.14" y="121">50</tspan></text><path d="M562.05,75.6 H594.7" stroke="#000" stroke-width="4.1" fill="none"/>
<path fill="#6aa512" d="M293.95,191.30 323.15,191.30 324.07,191.21 324.93,190.91 325.71,190.42 326.37,189.76 326.86,188.98 327.16,188.12 327.26,187.20 327.16,186.28 326.86,185.42 326.37,184.64 325.71,183.98 324.93,183.49 324.07,183.19 323.15,183.10 293.95,183.10 293.03,183.19 292.17,183.49 291.39,183.98 290.73,184.64 290.24,185.42 289.94,186.28 289.84,187.20 289.94,188.12 290.24,188.98 290.73,189.76 291.39,190.42 292.17,190.91 293.03,191.21zM362.65,191.30 391.85,191.30 392.77,191.21 393.63,190.91 394.41,190.42 395.07,189.76 395.56,188.98 395.86,188.12 395.96,187.20 395.86,186.28 395.56,185.42 395.07,184.64 394.41,183.98 393.63,183.49 392.77,183.19 391.85,183.10 362.65,183.10 361.73,183.19 360.87,183.49 360.09,183.98 359.43,184.64 358.94,185.42 358.64,186.28 358.54,187.20 358.64,188.12 358.94,188.98 359.43,189.76 360.09,190.42 360.87,190.91 361.73,191.21z"/>
<text class="t" xml:space="preserve"><tspan x="426.8" y="205">n</tspan> <tspan class="q" x="465.74" y="210">=</tspan> <tspan class="d" x="507.81" y="205">5</tspan><tspan x="536.83" y="205">,</tspan> <tspan x="560.83" y="205" textLength="35.96" lengthAdjust="spacingAndGlyphs">E</tspan><tspan class="s" x="594.03" y="219" letter-spacing="1.29">fm</tspan><tspan class="sl" x="633.71" y="205">/</tspan><tspan class="p" x="648.6" y="204">(</tspan><tspan x="665.75" y="205">n</tspan><tspan class="m" x="688.42" y="205" textLength="34.65" lengthAdjust="spacingAndGlyphs">μ</tspan><tspan class="s" x="721.78" y="183" letter-spacing="0.17">fib</tspan><tspan class="p" x="761.73" y="204">)</tspan> <tspan class="q" x="791.39" y="210">=</tspan> <tspan class="d" x="833.94 861.55 886.33" y="205">125</tspan></text><path d="M562.05,159.9 H594.7" stroke="#000" stroke-width="4.1" fill="none"/>
<path fill="#0068ac" d="M293.95,275.60 305.75,275.60 306.67,275.51 307.53,275.21 308.31,274.72 308.97,274.06 309.46,273.28 309.76,272.42 309.86,271.50 309.76,270.58 309.46,269.72 308.97,268.94 308.31,268.28 307.53,267.79 306.67,267.49 305.75,267.40 293.95,267.40 293.03,267.49 292.17,267.79 291.39,268.28 290.73,268.94 290.24,269.72 289.94,270.58 289.84,271.50 289.94,272.42 290.24,273.28 290.73,274.06 291.39,274.72 292.17,275.21 293.03,275.51zM324.75,275.60 336.55,275.60 337.47,275.51 338.33,275.21 339.11,274.72 339.77,274.06 340.26,273.28 340.56,272.42 340.66,271.50 340.56,270.58 340.26,269.72 339.77,268.94 339.11,268.28 338.33,267.79 337.47,267.49 336.55,267.40 324.75,267.40 323.83,267.49 322.97,267.79 322.19,268.28 321.53,268.94 321.04,269.72 320.74,270.58 320.64,271.50 320.74,272.42 321.04,273.28 321.53,274.06 322.19,274.72 322.97,275.21 323.83,275.51zM355.55,275.60 367.35,275.60 368.27,275.51 369.13,275.21 369.91,274.72 370.57,274.06 371.06,273.28 371.36,272.42 371.46,271.50 371.36,270.58 371.06,269.72 370.57,268.94 369.91,268.28 369.13,267.79 368.27,267.49 367.35,267.40 355.55,267.40 354.63,267.49 353.77,267.79 352.99,268.28 352.33,268.94 351.84,269.72 351.54,270.58 351.44,271.50 351.54,272.42 351.84,273.28 352.33,274.06 352.99,274.72 353.77,275.21 354.63,275.51zM386.35,275.60 398.15,275.60 399.07,275.51 399.93,275.21 400.71,274.72 401.37,274.06 401.86,273.28 402.16,272.42 402.26,271.50 402.16,270.58 401.86,269.72 401.37,268.94 400.71,268.28 399.93,267.79 399.07,267.49 398.15,267.40 386.35,267.40 385.43,267.49 384.57,267.79 383.79,268.28 383.13,268.94 382.64,269.72 382.34,270.58 382.24,271.50 382.34,272.42 382.64,273.28 383.13,274.06 383.79,274.72 384.57,275.21 385.43,275.51z"/>
<text class="t" xml:space="preserve"><tspan x="426.8" y="289">n</tspan> <tspan class="q" x="465.74" y="294">=</tspan> <tspan class="d" x="507.81" y="289">5</tspan><tspan x="536.83" y="289">,</tspan> <tspan x="560.83" y="289" textLength="35.96" lengthAdjust="spacingAndGlyphs">E</tspan><tspan class="s" x="594.03" y="303" letter-spacing="1.29">fm</tspan><tspan class="sl" x="633.71" y="289">/</tspan><tspan class="p" x="648.6" y="288">(</tspan><tspan x="665.75" y="289">n</tspan><tspan class="m" x="688.42" y="289" textLength="34.65" lengthAdjust="spacingAndGlyphs">μ</tspan><tspan class="s" x="721.78" y="267" letter-spacing="0.17">fib</tspan><tspan class="p" x="761.73" y="288">)</tspan> <tspan class="q" x="791.39" y="294">=</tspan> <tspan class="d" x="835.02 859.8 887.67" y="289">250</tspan></text><path d="M562.05,244.2 H594.7" stroke="#000" stroke-width="4.1" fill="none"/>
<path fill="#000000" d="M293.95,360.10 294.90,360.10 295.82,360.01 296.68,359.71 297.46,359.22 298.12,358.56 298.61,357.78 298.91,356.92 299.01,356.00 298.91,355.08 298.61,354.22 298.12,353.44 297.46,352.78 296.68,352.29 295.82,351.99 294.90,351.90 293.95,351.90 293.03,351.99 292.17,352.29 291.39,352.78 290.73,353.44 290.24,354.22 289.94,355.08 289.84,356.00 289.94,356.92 290.24,357.78 290.73,358.56 291.39,359.22 292.17,359.71 293.03,360.01zM307.81,360.10 308.76,360.10 309.68,360.01 310.54,359.71 311.32,359.22 311.98,358.56 312.47,357.78 312.77,356.92 312.87,356.00 312.77,355.08 312.47,354.22 311.98,353.44 311.32,352.78 310.54,352.29 309.68,351.99 308.76,351.90 307.81,351.90 306.89,351.99 306.03,352.29 305.25,352.78 304.59,353.44 304.10,354.22 303.80,355.08 303.70,356.00 303.80,356.92 304.10,357.78 304.59,358.56 305.25,359.22 306.03,359.71 306.89,360.01zM321.67,360.10 322.62,360.10 323.54,360.01 324.40,359.71 325.18,359.22 325.84,358.56 326.33,357.78 326.63,356.92 326.73,356.00 326.63,355.08 326.33,354.22 325.84,353.44 325.18,352.78 324.40,352.29 323.54,351.99 322.62,351.90 321.67,351.90 320.75,351.99 319.89,352.29 319.11,352.78 318.45,353.44 317.96,354.22 317.66,355.08 317.56,356.00 317.66,356.92 317.96,357.78 318.45,358.56 319.11,359.22 319.89,359.71 320.75,360.01zM335.53,360.10 336.48,360.10 337.40,360.01 338.26,359.71 339.04,359.22 339.70,358.56 340.19,357.78 340.49,356.92 340.59,356.00 340.49,355.08 340.19,354.22 339.70,353.44 339.04,352.78 338.26,352.29 337.40,351.99 336.48,351.90 335.53,351.90 334.61,351.99 333.75,352.29 332.97,352.78 332.31,353.44 331.82,354.22 331.52,355.08 331.42,356.00 331.52,356.92 331.82,357.78 332.31,358.56 332.97,359.22 333.75,359.71 334.61,360.01zM349.39,360.10 350.34,360.10 351.26,360.01 352.12,359.71 352.90,359.22 353.56,358.56 354.05,357.78 354.35,356.92 354.45,356.00 354.35,355.08 354.05,354.22 353.56,353.44 352.90,352.78 352.12,352.29 351.26,351.99 350.34,351.90 349.39,351.90 348.47,351.99 347.61,352.29 346.83,352.78 346.17,353.44 345.68,354.22 345.38,355.08 345.28,356.00 345.38,356.92 345.68,357.78 346.17,358.56 346.83,359.22 347.61,359.71 348.47,360.01zM363.25,360.10 364.20,360.10 365.12,360.01 365.98,359.71 366.76,359.22 367.42,358.56 367.91,357.78 368.21,356.92 368.31,356.00 368.21,355.08 367.91,354.22 367.42,353.44 366.76,352.78 365.98,352.29 365.12,351.99 364.20,351.90 363.25,351.90 362.33,351.99 361.47,352.29 360.69,352.78 360.03,353.44 359.54,354.22 359.24,355.08 359.14,356.00 359.24,356.92 359.54,357.78 360.03,358.56 360.69,359.22 361.47,359.71 362.33,360.01zM377.11,360.10 378.06,360.10 378.98,360.01 379.84,359.71 380.62,359.22 381.28,358.56 381.77,357.78 382.07,356.92 382.17,356.00 382.07,355.08 381.77,354.22 381.28,353.44 380.62,352.78 379.84,352.29 378.98,351.99 378.06,351.90 377.11,351.90 376.19,351.99 375.33,352.29 374.55,352.78 373.89,353.44 373.40,354.22 373.10,355.08 373.00,356.00 373.10,356.92 373.40,357.78 373.89,358.56 374.55,359.22 375.33,359.71 376.19,360.01zM390.97,360.10 391.92,360.10 392.84,360.01 393.70,359.71 394.48,359.22 395.14,358.56 395.63,357.78 395.93,356.92 396.03,356.00 395.93,355.08 395.63,354.22 395.14,353.44 394.48,352.78 393.70,352.29 392.84,351.99 391.92,351.90 390.97,351.90 390.05,351.99 389.19,352.29 388.41,352.78 387.75,353.44 387.26,354.22 386.96,355.08 386.86,356.00 386.96,356.92 387.26,357.78 387.75,358.56 388.41,359.22 389.19,359.71 390.05,360.01zM404.83,360.10 405.78,360.10 406.70,360.01 407.56,359.71 408.34,359.22 409.00,358.56 409.49,357.78 409.79,356.92 409.89,356.00 409.79,355.08 409.49,354.22 409.00,353.44 408.34,352.78 407.56,352.29 406.70,351.99 405.78,351.90 404.83,351.90 403.91,351.99 403.05,352.29 402.27,352.78 401.61,353.44 401.12,354.22 400.82,355.08 400.72,356.00 400.82,356.92 401.12,357.78 401.61,358.56 402.27,359.22 403.05,359.71 403.91,360.01z"/>
<text class="t" xml:space="preserve"><tspan x="426.8" y="374">n</tspan> <tspan class="q" x="465.74" y="379">=</tspan> <tspan class="d" x="507.81" y="374">5</tspan><tspan x="536.83" y="374">,</tspan> <tspan x="560.83" y="374" textLength="35.96" lengthAdjust="spacingAndGlyphs">E</tspan><tspan class="s" x="594.03" y="388" letter-spacing="1.29">fm</tspan><tspan class="sl" x="633.71" y="374">/</tspan><tspan class="p" x="648.6" y="373">(</tspan><tspan x="665.75" y="374">n</tspan><tspan class="m" x="688.42" y="374" textLength="34.65" lengthAdjust="spacingAndGlyphs">μ</tspan><tspan class="s" x="721.78" y="352" letter-spacing="0.17">fib</tspan><tspan class="p" x="761.73" y="373">)</tspan> <tspan class="q" x="791.39" y="379">=</tspan> <tspan class="d" x="833.28 861.14 887.67" y="374">500</tspan></text><path d="M562.05,328.7 H594.7" stroke="#000" stroke-width="4.1" fill="none"/>
<path fill="#808000" d="M293.95,437.50 330.05,437.50 330.97,437.41 331.83,437.11 332.61,436.62 333.27,435.96 333.76,435.18 334.06,434.32 334.16,433.40 334.06,432.48 333.76,431.62 333.27,430.84 332.61,430.18 331.83,429.69 330.97,429.39 330.05,429.30 293.95,429.30 293.03,429.39 292.17,429.69 291.39,430.18 290.73,430.84 290.24,431.62 289.94,432.48 289.84,433.40 289.94,434.32 290.24,435.18 290.73,435.96 291.39,436.62 292.17,437.11 293.03,437.41zM352.45,437.50 357.45,437.50 358.37,437.41 359.23,437.11 360.01,436.62 360.67,435.96 361.16,435.18 361.46,434.32 361.56,433.40 361.46,432.48 361.16,431.62 360.67,430.84 360.01,430.18 359.23,429.69 358.37,429.39 357.45,429.30 352.45,429.30 351.53,429.39 350.67,429.69 349.89,430.18 349.23,430.84 348.74,431.62 348.44,432.48 348.34,433.40 348.44,434.32 348.74,435.18 349.23,435.96 349.89,436.62 350.67,437.11 351.53,437.41zM379.95,437.50 414.10,437.50 415.02,437.41 415.88,437.11 416.66,436.62 417.32,435.96 417.81,435.18 418.11,434.32 418.21,433.40 418.11,432.48 417.81,431.62 417.32,430.84 416.66,430.18 415.88,429.69 415.02,429.39 414.10,429.30 379.95,429.30 379.03,429.39 378.17,429.69 377.39,430.18 376.73,430.84 376.24,431.62 375.94,432.48 375.84,433.40 375.94,434.32 376.24,435.18 376.73,435.96 377.39,436.62 378.17,437.11 379.03,437.41z"/>
<text class="t" xml:space="preserve"><tspan x="426.8" y="451">n</tspan> <tspan class="q" x="465.74" y="456">=</tspan> <tspan class="d" x="507.81" y="451">5</tspan>  <tspan class="p" x="562.4" y="450">(</tspan><tspan x="580.88 609.89 631.09" y="451">FJC</tspan><tspan class="p" x="666.38" y="450">)</tspan></text>
</svg>
</body></html>
